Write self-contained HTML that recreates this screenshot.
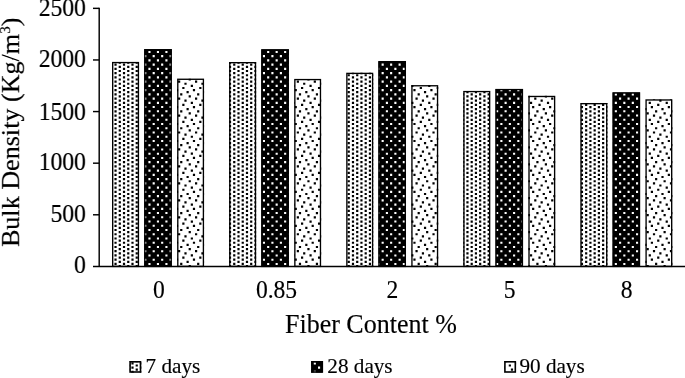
<!DOCTYPE html>
<html><head><meta charset="utf-8"><title>Bulk Density vs Fiber Content</title><style>
html,body{margin:0;padding:0;background:#fff;}
body{width:685px;height:378px;overflow:hidden;position:relative;-webkit-font-smoothing:antialiased;}
svg{position:absolute;left:0;top:0;filter:grayscale(1);}
text{font-family:"Liberation Serif", serif;fill:#000;stroke:#000;stroke-width:0.15px;}
</style></head><body>
<svg width="685" height="378" viewBox="0 0 685 378">
<defs><filter id="soft" x="0" y="0" width="1" height="1"><feGaussianBlur stdDeviation="0.35"/></filter><clipPath id="c00"><rect x="112.03" y="61.9" width="27.07" height="204.5"/></clipPath><clipPath id="c01"><rect x="144.13" y="49.1" width="27.74" height="217.3"/></clipPath><clipPath id="c02"><rect x="177.11" y="78.6" width="26.96" height="187.8"/></clipPath><clipPath id="c10"><rect x="229.11" y="62" width="27.07" height="204.4"/></clipPath><clipPath id="c11"><rect x="261.2" y="49.2" width="27.74" height="217.2"/></clipPath><clipPath id="c12"><rect x="294.19" y="78.9" width="26.96" height="187.5"/></clipPath><clipPath id="c20"><rect x="346.18" y="72.7" width="27.07" height="193.7"/></clipPath><clipPath id="c21"><rect x="378.28" y="61" width="27.74" height="205.4"/></clipPath><clipPath id="c22"><rect x="411.26" y="85.1" width="26.96" height="181.3"/></clipPath><clipPath id="c30"><rect x="463.25" y="90.9" width="27.07" height="175.5"/></clipPath><clipPath id="c31"><rect x="495.36" y="88.9" width="27.74" height="177.5"/></clipPath><clipPath id="c32"><rect x="528.34" y="95.8" width="26.96" height="170.6"/></clipPath><clipPath id="c40"><rect x="580.33" y="103" width="27.07" height="163.4"/></clipPath><clipPath id="c41"><rect x="612.43" y="92.3" width="27.74" height="174.1"/></clipPath><clipPath id="c42"><rect x="645.41" y="99.3" width="26.96" height="167.1"/></clipPath><clipPath id="lc0"><rect x="129.3" y="361" width="12" height="11.8"/></clipPath><clipPath id="lc1"><rect x="311.1" y="361" width="12" height="11.8"/></clipPath><clipPath id="lc2"><rect x="504.1" y="361" width="12" height="11.8"/></clipPath></defs>
<rect width="685" height="378" fill="#fff"/>
<g filter="url(#soft)"><g clip-path="url(#c00)"><rect x="112.03" y="61.9" width="27.07" height="204.5" fill="#fff"/><path fill="#000" d="M110.2 61.44h2.2v2.2h-2.2zM110.2 65.68h2.2v2.2h-2.2zM110.2 69.92h2.2v2.2h-2.2zM110.2 74.16h2.2v2.2h-2.2zM110.2 78.4h2.2v2.2h-2.2zM110.2 82.64h2.2v2.2h-2.2zM110.2 86.88h2.2v2.2h-2.2zM110.2 91.12h2.2v2.2h-2.2zM110.2 95.36h2.2v2.2h-2.2zM110.2 99.6h2.2v2.2h-2.2zM110.2 103.84h2.2v2.2h-2.2zM110.2 108.08h2.2v2.2h-2.2zM110.2 112.32h2.2v2.2h-2.2zM110.2 116.56h2.2v2.2h-2.2zM110.2 120.8h2.2v2.2h-2.2zM110.2 125.04h2.2v2.2h-2.2zM110.2 129.28h2.2v2.2h-2.2zM110.2 133.52h2.2v2.2h-2.2zM110.2 137.76h2.2v2.2h-2.2zM110.2 142h2.2v2.2h-2.2zM110.2 146.24h2.2v2.2h-2.2zM110.2 150.48h2.2v2.2h-2.2zM110.2 154.72h2.2v2.2h-2.2zM110.2 158.96h2.2v2.2h-2.2zM110.2 163.2h2.2v2.2h-2.2zM110.2 167.44h2.2v2.2h-2.2zM110.2 171.68h2.2v2.2h-2.2zM110.2 175.92h2.2v2.2h-2.2zM110.2 180.16h2.2v2.2h-2.2zM110.2 184.4h2.2v2.2h-2.2zM110.2 188.64h2.2v2.2h-2.2zM110.2 192.88h2.2v2.2h-2.2zM110.2 197.12h2.2v2.2h-2.2zM110.2 201.36h2.2v2.2h-2.2zM110.2 205.6h2.2v2.2h-2.2zM110.2 209.84h2.2v2.2h-2.2zM110.2 214.08h2.2v2.2h-2.2zM110.2 218.32h2.2v2.2h-2.2zM110.2 222.56h2.2v2.2h-2.2zM110.2 226.8h2.2v2.2h-2.2zM110.2 231.04h2.2v2.2h-2.2zM110.2 235.28h2.2v2.2h-2.2zM110.2 239.52h2.2v2.2h-2.2zM110.2 243.76h2.2v2.2h-2.2zM110.2 248h2.2v2.2h-2.2zM110.2 252.24h2.2v2.2h-2.2zM110.2 256.48h2.2v2.2h-2.2zM110.2 260.72h2.2v2.2h-2.2zM110.2 264.96h2.2v2.2h-2.2zM114.44 63.56h2.2v2.2h-2.2zM114.44 67.8h2.2v2.2h-2.2zM114.44 72.04h2.2v2.2h-2.2zM114.44 76.28h2.2v2.2h-2.2zM114.44 80.52h2.2v2.2h-2.2zM114.44 84.76h2.2v2.2h-2.2zM114.44 89h2.2v2.2h-2.2zM114.44 93.24h2.2v2.2h-2.2zM114.44 97.48h2.2v2.2h-2.2zM114.44 101.72h2.2v2.2h-2.2zM114.44 105.96h2.2v2.2h-2.2zM114.44 110.2h2.2v2.2h-2.2zM114.44 114.44h2.2v2.2h-2.2zM114.44 118.68h2.2v2.2h-2.2zM114.44 122.92h2.2v2.2h-2.2zM114.44 127.16h2.2v2.2h-2.2zM114.44 131.4h2.2v2.2h-2.2zM114.44 135.64h2.2v2.2h-2.2zM114.44 139.88h2.2v2.2h-2.2zM114.44 144.12h2.2v2.2h-2.2zM114.44 148.36h2.2v2.2h-2.2zM114.44 152.6h2.2v2.2h-2.2zM114.44 156.84h2.2v2.2h-2.2zM114.44 161.08h2.2v2.2h-2.2zM114.44 165.32h2.2v2.2h-2.2zM114.44 169.56h2.2v2.2h-2.2zM114.44 173.8h2.2v2.2h-2.2zM114.44 178.04h2.2v2.2h-2.2zM114.44 182.28h2.2v2.2h-2.2zM114.44 186.52h2.2v2.2h-2.2zM114.44 190.76h2.2v2.2h-2.2zM114.44 195h2.2v2.2h-2.2zM114.44 199.24h2.2v2.2h-2.2zM114.44 203.48h2.2v2.2h-2.2zM114.44 207.72h2.2v2.2h-2.2zM114.44 211.96h2.2v2.2h-2.2zM114.44 216.2h2.2v2.2h-2.2zM114.44 220.44h2.2v2.2h-2.2zM114.44 224.68h2.2v2.2h-2.2zM114.44 228.92h2.2v2.2h-2.2zM114.44 233.16h2.2v2.2h-2.2zM114.44 237.4h2.2v2.2h-2.2zM114.44 241.64h2.2v2.2h-2.2zM114.44 245.88h2.2v2.2h-2.2zM114.44 250.12h2.2v2.2h-2.2zM114.44 254.36h2.2v2.2h-2.2zM114.44 258.6h2.2v2.2h-2.2zM114.44 262.84h2.2v2.2h-2.2zM118.68 61.44h2.2v2.2h-2.2zM118.68 65.68h2.2v2.2h-2.2zM118.68 69.92h2.2v2.2h-2.2zM118.68 74.16h2.2v2.2h-2.2zM118.68 78.4h2.2v2.2h-2.2zM118.68 82.64h2.2v2.2h-2.2zM118.68 86.88h2.2v2.2h-2.2zM118.68 91.12h2.2v2.2h-2.2zM118.68 95.36h2.2v2.2h-2.2zM118.68 99.6h2.2v2.2h-2.2zM118.68 103.84h2.2v2.2h-2.2zM118.68 108.08h2.2v2.2h-2.2zM118.68 112.32h2.2v2.2h-2.2zM118.68 116.56h2.2v2.2h-2.2zM118.68 120.8h2.2v2.2h-2.2zM118.68 125.04h2.2v2.2h-2.2zM118.68 129.28h2.2v2.2h-2.2zM118.68 133.52h2.2v2.2h-2.2zM118.68 137.76h2.2v2.2h-2.2zM118.68 142h2.2v2.2h-2.2zM118.68 146.24h2.2v2.2h-2.2zM118.68 150.48h2.2v2.2h-2.2zM118.68 154.72h2.2v2.2h-2.2zM118.68 158.96h2.2v2.2h-2.2zM118.68 163.2h2.2v2.2h-2.2zM118.68 167.44h2.2v2.2h-2.2zM118.68 171.68h2.2v2.2h-2.2zM118.68 175.92h2.2v2.2h-2.2zM118.68 180.16h2.2v2.2h-2.2zM118.68 184.4h2.2v2.2h-2.2zM118.68 188.64h2.2v2.2h-2.2zM118.68 192.88h2.2v2.2h-2.2zM118.68 197.12h2.2v2.2h-2.2zM118.68 201.36h2.2v2.2h-2.2zM118.68 205.6h2.2v2.2h-2.2zM118.68 209.84h2.2v2.2h-2.2zM118.68 214.08h2.2v2.2h-2.2zM118.68 218.32h2.2v2.2h-2.2zM118.68 222.56h2.2v2.2h-2.2zM118.68 226.8h2.2v2.2h-2.2zM118.68 231.04h2.2v2.2h-2.2zM118.68 235.28h2.2v2.2h-2.2zM118.68 239.52h2.2v2.2h-2.2zM118.68 243.76h2.2v2.2h-2.2zM118.68 248h2.2v2.2h-2.2zM118.68 252.24h2.2v2.2h-2.2zM118.68 256.48h2.2v2.2h-2.2zM118.68 260.72h2.2v2.2h-2.2zM118.68 264.96h2.2v2.2h-2.2zM122.92 63.56h2.2v2.2h-2.2zM122.92 67.8h2.2v2.2h-2.2zM122.92 72.04h2.2v2.2h-2.2zM122.92 76.28h2.2v2.2h-2.2zM122.92 80.52h2.2v2.2h-2.2zM122.92 84.76h2.2v2.2h-2.2zM122.92 89h2.2v2.2h-2.2zM122.92 93.24h2.2v2.2h-2.2zM122.92 97.48h2.2v2.2h-2.2zM122.92 101.72h2.2v2.2h-2.2zM122.92 105.96h2.2v2.2h-2.2zM122.92 110.2h2.2v2.2h-2.2zM122.92 114.44h2.2v2.2h-2.2zM122.92 118.68h2.2v2.2h-2.2zM122.92 122.92h2.2v2.2h-2.2zM122.92 127.16h2.2v2.2h-2.2zM122.92 131.4h2.2v2.2h-2.2zM122.92 135.64h2.2v2.2h-2.2zM122.92 139.88h2.2v2.2h-2.2zM122.92 144.12h2.2v2.2h-2.2zM122.92 148.36h2.2v2.2h-2.2zM122.92 152.6h2.2v2.2h-2.2zM122.92 156.84h2.2v2.2h-2.2zM122.92 161.08h2.2v2.2h-2.2zM122.92 165.32h2.2v2.2h-2.2zM122.92 169.56h2.2v2.2h-2.2zM122.92 173.8h2.2v2.2h-2.2zM122.92 178.04h2.2v2.2h-2.2zM122.92 182.28h2.2v2.2h-2.2zM122.92 186.52h2.2v2.2h-2.2zM122.92 190.76h2.2v2.2h-2.2zM122.92 195h2.2v2.2h-2.2zM122.92 199.24h2.2v2.2h-2.2zM122.92 203.48h2.2v2.2h-2.2zM122.92 207.72h2.2v2.2h-2.2zM122.92 211.96h2.2v2.2h-2.2zM122.92 216.2h2.2v2.2h-2.2zM122.92 220.44h2.2v2.2h-2.2zM122.92 224.68h2.2v2.2h-2.2zM122.92 228.92h2.2v2.2h-2.2zM122.92 233.16h2.2v2.2h-2.2zM122.92 237.4h2.2v2.2h-2.2zM122.92 241.64h2.2v2.2h-2.2zM122.92 245.88h2.2v2.2h-2.2zM122.92 250.12h2.2v2.2h-2.2zM122.92 254.36h2.2v2.2h-2.2zM122.92 258.6h2.2v2.2h-2.2zM122.92 262.84h2.2v2.2h-2.2zM127.16 61.44h2.2v2.2h-2.2zM127.16 65.68h2.2v2.2h-2.2zM127.16 69.92h2.2v2.2h-2.2zM127.16 74.16h2.2v2.2h-2.2zM127.16 78.4h2.2v2.2h-2.2zM127.16 82.64h2.2v2.2h-2.2zM127.16 86.88h2.2v2.2h-2.2zM127.16 91.12h2.2v2.2h-2.2zM127.16 95.36h2.2v2.2h-2.2zM127.16 99.6h2.2v2.2h-2.2zM127.16 103.84h2.2v2.2h-2.2zM127.16 108.08h2.2v2.2h-2.2zM127.16 112.32h2.2v2.2h-2.2zM127.16 116.56h2.2v2.2h-2.2zM127.16 120.8h2.2v2.2h-2.2zM127.16 125.04h2.2v2.2h-2.2zM127.16 129.28h2.2v2.2h-2.2zM127.16 133.52h2.2v2.2h-2.2zM127.16 137.76h2.2v2.2h-2.2zM127.16 142h2.2v2.2h-2.2zM127.16 146.24h2.2v2.2h-2.2zM127.16 150.48h2.2v2.2h-2.2zM127.16 154.72h2.2v2.2h-2.2zM127.16 158.96h2.2v2.2h-2.2zM127.16 163.2h2.2v2.2h-2.2zM127.16 167.44h2.2v2.2h-2.2zM127.16 171.68h2.2v2.2h-2.2zM127.16 175.92h2.2v2.2h-2.2zM127.16 180.16h2.2v2.2h-2.2zM127.16 184.4h2.2v2.2h-2.2zM127.16 188.64h2.2v2.2h-2.2zM127.16 192.88h2.2v2.2h-2.2zM127.16 197.12h2.2v2.2h-2.2zM127.16 201.36h2.2v2.2h-2.2zM127.16 205.6h2.2v2.2h-2.2zM127.16 209.84h2.2v2.2h-2.2zM127.16 214.08h2.2v2.2h-2.2zM127.16 218.32h2.2v2.2h-2.2zM127.16 222.56h2.2v2.2h-2.2zM127.16 226.8h2.2v2.2h-2.2zM127.16 231.04h2.2v2.2h-2.2zM127.16 235.28h2.2v2.2h-2.2zM127.16 239.52h2.2v2.2h-2.2zM127.16 243.76h2.2v2.2h-2.2zM127.16 248h2.2v2.2h-2.2zM127.16 252.24h2.2v2.2h-2.2zM127.16 256.48h2.2v2.2h-2.2zM127.16 260.72h2.2v2.2h-2.2zM127.16 264.96h2.2v2.2h-2.2zM131.4 63.56h2.2v2.2h-2.2zM131.4 67.8h2.2v2.2h-2.2zM131.4 72.04h2.2v2.2h-2.2zM131.4 76.28h2.2v2.2h-2.2zM131.4 80.52h2.2v2.2h-2.2zM131.4 84.76h2.2v2.2h-2.2zM131.4 89h2.2v2.2h-2.2zM131.4 93.24h2.2v2.2h-2.2zM131.4 97.48h2.2v2.2h-2.2zM131.4 101.72h2.2v2.2h-2.2zM131.4 105.96h2.2v2.2h-2.2zM131.4 110.2h2.2v2.2h-2.2zM131.4 114.44h2.2v2.2h-2.2zM131.4 118.68h2.2v2.2h-2.2zM131.4 122.92h2.2v2.2h-2.2zM131.4 127.16h2.2v2.2h-2.2zM131.4 131.4h2.2v2.2h-2.2zM131.4 135.64h2.2v2.2h-2.2zM131.4 139.88h2.2v2.2h-2.2zM131.4 144.12h2.2v2.2h-2.2zM131.4 148.36h2.2v2.2h-2.2zM131.4 152.6h2.2v2.2h-2.2zM131.4 156.84h2.2v2.2h-2.2zM131.4 161.08h2.2v2.2h-2.2zM131.4 165.32h2.2v2.2h-2.2zM131.4 169.56h2.2v2.2h-2.2zM131.4 173.8h2.2v2.2h-2.2zM131.4 178.04h2.2v2.2h-2.2zM131.4 182.28h2.2v2.2h-2.2zM131.4 186.52h2.2v2.2h-2.2zM131.4 190.76h2.2v2.2h-2.2zM131.4 195h2.2v2.2h-2.2zM131.4 199.24h2.2v2.2h-2.2zM131.4 203.48h2.2v2.2h-2.2zM131.4 207.72h2.2v2.2h-2.2zM131.4 211.96h2.2v2.2h-2.2zM131.4 216.2h2.2v2.2h-2.2zM131.4 220.44h2.2v2.2h-2.2zM131.4 224.68h2.2v2.2h-2.2zM131.4 228.92h2.2v2.2h-2.2zM131.4 233.16h2.2v2.2h-2.2zM131.4 237.4h2.2v2.2h-2.2zM131.4 241.64h2.2v2.2h-2.2zM131.4 245.88h2.2v2.2h-2.2zM131.4 250.12h2.2v2.2h-2.2zM131.4 254.36h2.2v2.2h-2.2zM131.4 258.6h2.2v2.2h-2.2zM131.4 262.84h2.2v2.2h-2.2zM135.64 61.44h2.2v2.2h-2.2zM135.64 65.68h2.2v2.2h-2.2zM135.64 69.92h2.2v2.2h-2.2zM135.64 74.16h2.2v2.2h-2.2zM135.64 78.4h2.2v2.2h-2.2zM135.64 82.64h2.2v2.2h-2.2zM135.64 86.88h2.2v2.2h-2.2zM135.64 91.12h2.2v2.2h-2.2zM135.64 95.36h2.2v2.2h-2.2zM135.64 99.6h2.2v2.2h-2.2zM135.64 103.84h2.2v2.2h-2.2zM135.64 108.08h2.2v2.2h-2.2zM135.64 112.32h2.2v2.2h-2.2zM135.64 116.56h2.2v2.2h-2.2zM135.64 120.8h2.2v2.2h-2.2zM135.64 125.04h2.2v2.2h-2.2zM135.64 129.28h2.2v2.2h-2.2zM135.64 133.52h2.2v2.2h-2.2zM135.64 137.76h2.2v2.2h-2.2zM135.64 142h2.2v2.2h-2.2zM135.64 146.24h2.2v2.2h-2.2zM135.64 150.48h2.2v2.2h-2.2zM135.64 154.72h2.2v2.2h-2.2zM135.64 158.96h2.2v2.2h-2.2zM135.64 163.2h2.2v2.2h-2.2zM135.64 167.44h2.2v2.2h-2.2zM135.64 171.68h2.2v2.2h-2.2zM135.64 175.92h2.2v2.2h-2.2zM135.64 180.16h2.2v2.2h-2.2zM135.64 184.4h2.2v2.2h-2.2zM135.64 188.64h2.2v2.2h-2.2zM135.64 192.88h2.2v2.2h-2.2zM135.64 197.12h2.2v2.2h-2.2zM135.64 201.36h2.2v2.2h-2.2zM135.64 205.6h2.2v2.2h-2.2zM135.64 209.84h2.2v2.2h-2.2zM135.64 214.08h2.2v2.2h-2.2zM135.64 218.32h2.2v2.2h-2.2zM135.64 222.56h2.2v2.2h-2.2zM135.64 226.8h2.2v2.2h-2.2zM135.64 231.04h2.2v2.2h-2.2zM135.64 235.28h2.2v2.2h-2.2zM135.64 239.52h2.2v2.2h-2.2zM135.64 243.76h2.2v2.2h-2.2zM135.64 248h2.2v2.2h-2.2zM135.64 252.24h2.2v2.2h-2.2zM135.64 256.48h2.2v2.2h-2.2zM135.64 260.72h2.2v2.2h-2.2zM135.64 264.96h2.2v2.2h-2.2z"/></g><rect x="112.7" y="62.57" width="25.72" height="203.82" fill="none" stroke="#000" stroke-width="1.35"/><g clip-path="url(#c01)"><rect x="144.13" y="49.1" width="27.74" height="217.3" fill="#000"/><path fill="#fff" d="M144.16 55.12h2.12v2.12h-2.12zM144.16 63.6h2.12v2.12h-2.12zM144.16 72.08h2.12v2.12h-2.12zM144.16 80.56h2.12v2.12h-2.12zM144.16 89.04h2.12v2.12h-2.12zM144.16 97.52h2.12v2.12h-2.12zM144.16 106h2.12v2.12h-2.12zM144.16 114.48h2.12v2.12h-2.12zM144.16 122.96h2.12v2.12h-2.12zM144.16 131.44h2.12v2.12h-2.12zM144.16 139.92h2.12v2.12h-2.12zM144.16 148.4h2.12v2.12h-2.12zM144.16 156.88h2.12v2.12h-2.12zM144.16 165.36h2.12v2.12h-2.12zM144.16 173.84h2.12v2.12h-2.12zM144.16 182.32h2.12v2.12h-2.12zM144.16 190.8h2.12v2.12h-2.12zM144.16 199.28h2.12v2.12h-2.12zM144.16 207.76h2.12v2.12h-2.12zM144.16 216.24h2.12v2.12h-2.12zM144.16 224.72h2.12v2.12h-2.12zM144.16 233.2h2.12v2.12h-2.12zM144.16 241.68h2.12v2.12h-2.12zM144.16 250.16h2.12v2.12h-2.12zM144.16 258.64h2.12v2.12h-2.12zM148.4 50.88h2.12v2.12h-2.12zM148.4 59.36h2.12v2.12h-2.12zM148.4 67.84h2.12v2.12h-2.12zM148.4 76.32h2.12v2.12h-2.12zM148.4 84.8h2.12v2.12h-2.12zM148.4 93.28h2.12v2.12h-2.12zM148.4 101.76h2.12v2.12h-2.12zM148.4 110.24h2.12v2.12h-2.12zM148.4 118.72h2.12v2.12h-2.12zM148.4 127.2h2.12v2.12h-2.12zM148.4 135.68h2.12v2.12h-2.12zM148.4 144.16h2.12v2.12h-2.12zM148.4 152.64h2.12v2.12h-2.12zM148.4 161.12h2.12v2.12h-2.12zM148.4 169.6h2.12v2.12h-2.12zM148.4 178.08h2.12v2.12h-2.12zM148.4 186.56h2.12v2.12h-2.12zM148.4 195.04h2.12v2.12h-2.12zM148.4 203.52h2.12v2.12h-2.12zM148.4 212h2.12v2.12h-2.12zM148.4 220.48h2.12v2.12h-2.12zM148.4 228.96h2.12v2.12h-2.12zM148.4 237.44h2.12v2.12h-2.12zM148.4 245.92h2.12v2.12h-2.12zM148.4 254.4h2.12v2.12h-2.12zM148.4 262.88h2.12v2.12h-2.12zM152.64 55.12h2.12v2.12h-2.12zM152.64 63.6h2.12v2.12h-2.12zM152.64 72.08h2.12v2.12h-2.12zM152.64 80.56h2.12v2.12h-2.12zM152.64 89.04h2.12v2.12h-2.12zM152.64 97.52h2.12v2.12h-2.12zM152.64 106h2.12v2.12h-2.12zM152.64 114.48h2.12v2.12h-2.12zM152.64 122.96h2.12v2.12h-2.12zM152.64 131.44h2.12v2.12h-2.12zM152.64 139.92h2.12v2.12h-2.12zM152.64 148.4h2.12v2.12h-2.12zM152.64 156.88h2.12v2.12h-2.12zM152.64 165.36h2.12v2.12h-2.12zM152.64 173.84h2.12v2.12h-2.12zM152.64 182.32h2.12v2.12h-2.12zM152.64 190.8h2.12v2.12h-2.12zM152.64 199.28h2.12v2.12h-2.12zM152.64 207.76h2.12v2.12h-2.12zM152.64 216.24h2.12v2.12h-2.12zM152.64 224.72h2.12v2.12h-2.12zM152.64 233.2h2.12v2.12h-2.12zM152.64 241.68h2.12v2.12h-2.12zM152.64 250.16h2.12v2.12h-2.12zM152.64 258.64h2.12v2.12h-2.12zM156.88 50.88h2.12v2.12h-2.12zM156.88 59.36h2.12v2.12h-2.12zM156.88 67.84h2.12v2.12h-2.12zM156.88 76.32h2.12v2.12h-2.12zM156.88 84.8h2.12v2.12h-2.12zM156.88 93.28h2.12v2.12h-2.12zM156.88 101.76h2.12v2.12h-2.12zM156.88 110.24h2.12v2.12h-2.12zM156.88 118.72h2.12v2.12h-2.12zM156.88 127.2h2.12v2.12h-2.12zM156.88 135.68h2.12v2.12h-2.12zM156.88 144.16h2.12v2.12h-2.12zM156.88 152.64h2.12v2.12h-2.12zM156.88 161.12h2.12v2.12h-2.12zM156.88 169.6h2.12v2.12h-2.12zM156.88 178.08h2.12v2.12h-2.12zM156.88 186.56h2.12v2.12h-2.12zM156.88 195.04h2.12v2.12h-2.12zM156.88 203.52h2.12v2.12h-2.12zM156.88 212h2.12v2.12h-2.12zM156.88 220.48h2.12v2.12h-2.12zM156.88 228.96h2.12v2.12h-2.12zM156.88 237.44h2.12v2.12h-2.12zM156.88 245.92h2.12v2.12h-2.12zM156.88 254.4h2.12v2.12h-2.12zM156.88 262.88h2.12v2.12h-2.12zM161.12 55.12h2.12v2.12h-2.12zM161.12 63.6h2.12v2.12h-2.12zM161.12 72.08h2.12v2.12h-2.12zM161.12 80.56h2.12v2.12h-2.12zM161.12 89.04h2.12v2.12h-2.12zM161.12 97.52h2.12v2.12h-2.12zM161.12 106h2.12v2.12h-2.12zM161.12 114.48h2.12v2.12h-2.12zM161.12 122.96h2.12v2.12h-2.12zM161.12 131.44h2.12v2.12h-2.12zM161.12 139.92h2.12v2.12h-2.12zM161.12 148.4h2.12v2.12h-2.12zM161.12 156.88h2.12v2.12h-2.12zM161.12 165.36h2.12v2.12h-2.12zM161.12 173.84h2.12v2.12h-2.12zM161.12 182.32h2.12v2.12h-2.12zM161.12 190.8h2.12v2.12h-2.12zM161.12 199.28h2.12v2.12h-2.12zM161.12 207.76h2.12v2.12h-2.12zM161.12 216.24h2.12v2.12h-2.12zM161.12 224.72h2.12v2.12h-2.12zM161.12 233.2h2.12v2.12h-2.12zM161.12 241.68h2.12v2.12h-2.12zM161.12 250.16h2.12v2.12h-2.12zM161.12 258.64h2.12v2.12h-2.12zM165.36 50.88h2.12v2.12h-2.12zM165.36 59.36h2.12v2.12h-2.12zM165.36 67.84h2.12v2.12h-2.12zM165.36 76.32h2.12v2.12h-2.12zM165.36 84.8h2.12v2.12h-2.12zM165.36 93.28h2.12v2.12h-2.12zM165.36 101.76h2.12v2.12h-2.12zM165.36 110.24h2.12v2.12h-2.12zM165.36 118.72h2.12v2.12h-2.12zM165.36 127.2h2.12v2.12h-2.12zM165.36 135.68h2.12v2.12h-2.12zM165.36 144.16h2.12v2.12h-2.12zM165.36 152.64h2.12v2.12h-2.12zM165.36 161.12h2.12v2.12h-2.12zM165.36 169.6h2.12v2.12h-2.12zM165.36 178.08h2.12v2.12h-2.12zM165.36 186.56h2.12v2.12h-2.12zM165.36 195.04h2.12v2.12h-2.12zM165.36 203.52h2.12v2.12h-2.12zM165.36 212h2.12v2.12h-2.12zM165.36 220.48h2.12v2.12h-2.12zM165.36 228.96h2.12v2.12h-2.12zM165.36 237.44h2.12v2.12h-2.12zM165.36 245.92h2.12v2.12h-2.12zM165.36 254.4h2.12v2.12h-2.12zM165.36 262.88h2.12v2.12h-2.12zM169.6 55.12h2.12v2.12h-2.12zM169.6 63.6h2.12v2.12h-2.12zM169.6 72.08h2.12v2.12h-2.12zM169.6 80.56h2.12v2.12h-2.12zM169.6 89.04h2.12v2.12h-2.12zM169.6 97.52h2.12v2.12h-2.12zM169.6 106h2.12v2.12h-2.12zM169.6 114.48h2.12v2.12h-2.12zM169.6 122.96h2.12v2.12h-2.12zM169.6 131.44h2.12v2.12h-2.12zM169.6 139.92h2.12v2.12h-2.12zM169.6 148.4h2.12v2.12h-2.12zM169.6 156.88h2.12v2.12h-2.12zM169.6 165.36h2.12v2.12h-2.12zM169.6 173.84h2.12v2.12h-2.12zM169.6 182.32h2.12v2.12h-2.12zM169.6 190.8h2.12v2.12h-2.12zM169.6 199.28h2.12v2.12h-2.12zM169.6 207.76h2.12v2.12h-2.12zM169.6 216.24h2.12v2.12h-2.12zM169.6 224.72h2.12v2.12h-2.12zM169.6 233.2h2.12v2.12h-2.12zM169.6 241.68h2.12v2.12h-2.12zM169.6 250.16h2.12v2.12h-2.12zM169.6 258.64h2.12v2.12h-2.12z"/></g><rect x="144.81" y="49.77" width="26.39" height="216.62" fill="none" stroke="#000" stroke-width="1.35"/><g clip-path="url(#c02)"><rect x="177.11" y="78.6" width="26.96" height="187.8" fill="#fff"/><path fill="#000" d="M175.92 89h2.2v2.2h-2.2zM175.92 105.96h2.2v2.2h-2.2zM175.92 122.92h2.2v2.2h-2.2zM175.92 139.88h2.2v2.2h-2.2zM175.92 156.84h2.2v2.2h-2.2zM175.92 173.8h2.2v2.2h-2.2zM175.92 190.76h2.2v2.2h-2.2zM175.92 207.72h2.2v2.2h-2.2zM175.92 224.68h2.2v2.2h-2.2zM175.92 241.64h2.2v2.2h-2.2zM175.92 258.6h2.2v2.2h-2.2zM178.04 80.52h2.2v2.2h-2.2zM178.04 97.48h2.2v2.2h-2.2zM178.04 114.44h2.2v2.2h-2.2zM178.04 131.4h2.2v2.2h-2.2zM178.04 148.36h2.2v2.2h-2.2zM178.04 165.32h2.2v2.2h-2.2zM178.04 182.28h2.2v2.2h-2.2zM178.04 199.24h2.2v2.2h-2.2zM178.04 216.2h2.2v2.2h-2.2zM178.04 233.16h2.2v2.2h-2.2zM178.04 250.12h2.2v2.2h-2.2zM180.16 93.24h2.2v2.2h-2.2zM180.16 110.2h2.2v2.2h-2.2zM180.16 127.16h2.2v2.2h-2.2zM180.16 144.12h2.2v2.2h-2.2zM180.16 161.08h2.2v2.2h-2.2zM180.16 178.04h2.2v2.2h-2.2zM180.16 195h2.2v2.2h-2.2zM180.16 211.96h2.2v2.2h-2.2zM180.16 228.92h2.2v2.2h-2.2zM180.16 245.88h2.2v2.2h-2.2zM180.16 262.84h2.2v2.2h-2.2zM182.28 86.88h2.2v2.2h-2.2zM182.28 103.84h2.2v2.2h-2.2zM182.28 120.8h2.2v2.2h-2.2zM182.28 137.76h2.2v2.2h-2.2zM182.28 154.72h2.2v2.2h-2.2zM182.28 171.68h2.2v2.2h-2.2zM182.28 188.64h2.2v2.2h-2.2zM182.28 205.6h2.2v2.2h-2.2zM182.28 222.56h2.2v2.2h-2.2zM182.28 239.52h2.2v2.2h-2.2zM182.28 256.48h2.2v2.2h-2.2zM184.4 82.64h2.2v2.2h-2.2zM184.4 99.6h2.2v2.2h-2.2zM184.4 116.56h2.2v2.2h-2.2zM184.4 133.52h2.2v2.2h-2.2zM184.4 150.48h2.2v2.2h-2.2zM184.4 167.44h2.2v2.2h-2.2zM184.4 184.4h2.2v2.2h-2.2zM184.4 201.36h2.2v2.2h-2.2zM184.4 218.32h2.2v2.2h-2.2zM184.4 235.28h2.2v2.2h-2.2zM184.4 252.24h2.2v2.2h-2.2zM186.52 91.12h2.2v2.2h-2.2zM186.52 108.08h2.2v2.2h-2.2zM186.52 125.04h2.2v2.2h-2.2zM186.52 142h2.2v2.2h-2.2zM186.52 158.96h2.2v2.2h-2.2zM186.52 175.92h2.2v2.2h-2.2zM186.52 192.88h2.2v2.2h-2.2zM186.52 209.84h2.2v2.2h-2.2zM186.52 226.8h2.2v2.2h-2.2zM186.52 243.76h2.2v2.2h-2.2zM186.52 260.72h2.2v2.2h-2.2zM188.64 78.4h2.2v2.2h-2.2zM188.64 95.36h2.2v2.2h-2.2zM188.64 112.32h2.2v2.2h-2.2zM188.64 129.28h2.2v2.2h-2.2zM188.64 146.24h2.2v2.2h-2.2zM188.64 163.2h2.2v2.2h-2.2zM188.64 180.16h2.2v2.2h-2.2zM188.64 197.12h2.2v2.2h-2.2zM188.64 214.08h2.2v2.2h-2.2zM188.64 231.04h2.2v2.2h-2.2zM188.64 248h2.2v2.2h-2.2zM188.64 264.96h2.2v2.2h-2.2zM190.76 84.76h2.2v2.2h-2.2zM190.76 101.72h2.2v2.2h-2.2zM190.76 118.68h2.2v2.2h-2.2zM190.76 135.64h2.2v2.2h-2.2zM190.76 152.6h2.2v2.2h-2.2zM190.76 169.56h2.2v2.2h-2.2zM190.76 186.52h2.2v2.2h-2.2zM190.76 203.48h2.2v2.2h-2.2zM190.76 220.44h2.2v2.2h-2.2zM190.76 237.4h2.2v2.2h-2.2zM190.76 254.36h2.2v2.2h-2.2zM192.88 89h2.2v2.2h-2.2zM192.88 105.96h2.2v2.2h-2.2zM192.88 122.92h2.2v2.2h-2.2zM192.88 139.88h2.2v2.2h-2.2zM192.88 156.84h2.2v2.2h-2.2zM192.88 173.8h2.2v2.2h-2.2zM192.88 190.76h2.2v2.2h-2.2zM192.88 207.72h2.2v2.2h-2.2zM192.88 224.68h2.2v2.2h-2.2zM192.88 241.64h2.2v2.2h-2.2zM192.88 258.6h2.2v2.2h-2.2zM195 80.52h2.2v2.2h-2.2zM195 97.48h2.2v2.2h-2.2zM195 114.44h2.2v2.2h-2.2zM195 131.4h2.2v2.2h-2.2zM195 148.36h2.2v2.2h-2.2zM195 165.32h2.2v2.2h-2.2zM195 182.28h2.2v2.2h-2.2zM195 199.24h2.2v2.2h-2.2zM195 216.2h2.2v2.2h-2.2zM195 233.16h2.2v2.2h-2.2zM195 250.12h2.2v2.2h-2.2zM197.12 93.24h2.2v2.2h-2.2zM197.12 110.2h2.2v2.2h-2.2zM197.12 127.16h2.2v2.2h-2.2zM197.12 144.12h2.2v2.2h-2.2zM197.12 161.08h2.2v2.2h-2.2zM197.12 178.04h2.2v2.2h-2.2zM197.12 195h2.2v2.2h-2.2zM197.12 211.96h2.2v2.2h-2.2zM197.12 228.92h2.2v2.2h-2.2zM197.12 245.88h2.2v2.2h-2.2zM197.12 262.84h2.2v2.2h-2.2zM199.24 86.88h2.2v2.2h-2.2zM199.24 103.84h2.2v2.2h-2.2zM199.24 120.8h2.2v2.2h-2.2zM199.24 137.76h2.2v2.2h-2.2zM199.24 154.72h2.2v2.2h-2.2zM199.24 171.68h2.2v2.2h-2.2zM199.24 188.64h2.2v2.2h-2.2zM199.24 205.6h2.2v2.2h-2.2zM199.24 222.56h2.2v2.2h-2.2zM199.24 239.52h2.2v2.2h-2.2zM199.24 256.48h2.2v2.2h-2.2zM201.36 82.64h2.2v2.2h-2.2zM201.36 99.6h2.2v2.2h-2.2zM201.36 116.56h2.2v2.2h-2.2zM201.36 133.52h2.2v2.2h-2.2zM201.36 150.48h2.2v2.2h-2.2zM201.36 167.44h2.2v2.2h-2.2zM201.36 184.4h2.2v2.2h-2.2zM201.36 201.36h2.2v2.2h-2.2zM201.36 218.32h2.2v2.2h-2.2zM201.36 235.28h2.2v2.2h-2.2zM201.36 252.24h2.2v2.2h-2.2zM203.48 91.12h2.2v2.2h-2.2zM203.48 108.08h2.2v2.2h-2.2zM203.48 125.04h2.2v2.2h-2.2zM203.48 142h2.2v2.2h-2.2zM203.48 158.96h2.2v2.2h-2.2zM203.48 175.92h2.2v2.2h-2.2zM203.48 192.88h2.2v2.2h-2.2zM203.48 209.84h2.2v2.2h-2.2zM203.48 226.8h2.2v2.2h-2.2zM203.48 243.76h2.2v2.2h-2.2zM203.48 260.72h2.2v2.2h-2.2z"/></g><rect x="177.79" y="79.27" width="25.61" height="187.12" fill="none" stroke="#000" stroke-width="1.35"/><g clip-path="url(#c10)"><rect x="229.11" y="62" width="27.07" height="204.4" fill="#fff"/><path fill="#000" d="M228.92 61.44h2.2v2.2h-2.2zM228.92 65.68h2.2v2.2h-2.2zM228.92 69.92h2.2v2.2h-2.2zM228.92 74.16h2.2v2.2h-2.2zM228.92 78.4h2.2v2.2h-2.2zM228.92 82.64h2.2v2.2h-2.2zM228.92 86.88h2.2v2.2h-2.2zM228.92 91.12h2.2v2.2h-2.2zM228.92 95.36h2.2v2.2h-2.2zM228.92 99.6h2.2v2.2h-2.2zM228.92 103.84h2.2v2.2h-2.2zM228.92 108.08h2.2v2.2h-2.2zM228.92 112.32h2.2v2.2h-2.2zM228.92 116.56h2.2v2.2h-2.2zM228.92 120.8h2.2v2.2h-2.2zM228.92 125.04h2.2v2.2h-2.2zM228.92 129.28h2.2v2.2h-2.2zM228.92 133.52h2.2v2.2h-2.2zM228.92 137.76h2.2v2.2h-2.2zM228.92 142h2.2v2.2h-2.2zM228.92 146.24h2.2v2.2h-2.2zM228.92 150.48h2.2v2.2h-2.2zM228.92 154.72h2.2v2.2h-2.2zM228.92 158.96h2.2v2.2h-2.2zM228.92 163.2h2.2v2.2h-2.2zM228.92 167.44h2.2v2.2h-2.2zM228.92 171.68h2.2v2.2h-2.2zM228.92 175.92h2.2v2.2h-2.2zM228.92 180.16h2.2v2.2h-2.2zM228.92 184.4h2.2v2.2h-2.2zM228.92 188.64h2.2v2.2h-2.2zM228.92 192.88h2.2v2.2h-2.2zM228.92 197.12h2.2v2.2h-2.2zM228.92 201.36h2.2v2.2h-2.2zM228.92 205.6h2.2v2.2h-2.2zM228.92 209.84h2.2v2.2h-2.2zM228.92 214.08h2.2v2.2h-2.2zM228.92 218.32h2.2v2.2h-2.2zM228.92 222.56h2.2v2.2h-2.2zM228.92 226.8h2.2v2.2h-2.2zM228.92 231.04h2.2v2.2h-2.2zM228.92 235.28h2.2v2.2h-2.2zM228.92 239.52h2.2v2.2h-2.2zM228.92 243.76h2.2v2.2h-2.2zM228.92 248h2.2v2.2h-2.2zM228.92 252.24h2.2v2.2h-2.2zM228.92 256.48h2.2v2.2h-2.2zM228.92 260.72h2.2v2.2h-2.2zM228.92 264.96h2.2v2.2h-2.2zM233.16 63.56h2.2v2.2h-2.2zM233.16 67.8h2.2v2.2h-2.2zM233.16 72.04h2.2v2.2h-2.2zM233.16 76.28h2.2v2.2h-2.2zM233.16 80.52h2.2v2.2h-2.2zM233.16 84.76h2.2v2.2h-2.2zM233.16 89h2.2v2.2h-2.2zM233.16 93.24h2.2v2.2h-2.2zM233.16 97.48h2.2v2.2h-2.2zM233.16 101.72h2.2v2.2h-2.2zM233.16 105.96h2.2v2.2h-2.2zM233.16 110.2h2.2v2.2h-2.2zM233.16 114.44h2.2v2.2h-2.2zM233.16 118.68h2.2v2.2h-2.2zM233.16 122.92h2.2v2.2h-2.2zM233.16 127.16h2.2v2.2h-2.2zM233.16 131.4h2.2v2.2h-2.2zM233.16 135.64h2.2v2.2h-2.2zM233.16 139.88h2.2v2.2h-2.2zM233.16 144.12h2.2v2.2h-2.2zM233.16 148.36h2.2v2.2h-2.2zM233.16 152.6h2.2v2.2h-2.2zM233.16 156.84h2.2v2.2h-2.2zM233.16 161.08h2.2v2.2h-2.2zM233.16 165.32h2.2v2.2h-2.2zM233.16 169.56h2.2v2.2h-2.2zM233.16 173.8h2.2v2.2h-2.2zM233.16 178.04h2.2v2.2h-2.2zM233.16 182.28h2.2v2.2h-2.2zM233.16 186.52h2.2v2.2h-2.2zM233.16 190.76h2.2v2.2h-2.2zM233.16 195h2.2v2.2h-2.2zM233.16 199.24h2.2v2.2h-2.2zM233.16 203.48h2.2v2.2h-2.2zM233.16 207.72h2.2v2.2h-2.2zM233.16 211.96h2.2v2.2h-2.2zM233.16 216.2h2.2v2.2h-2.2zM233.16 220.44h2.2v2.2h-2.2zM233.16 224.68h2.2v2.2h-2.2zM233.16 228.92h2.2v2.2h-2.2zM233.16 233.16h2.2v2.2h-2.2zM233.16 237.4h2.2v2.2h-2.2zM233.16 241.64h2.2v2.2h-2.2zM233.16 245.88h2.2v2.2h-2.2zM233.16 250.12h2.2v2.2h-2.2zM233.16 254.36h2.2v2.2h-2.2zM233.16 258.6h2.2v2.2h-2.2zM233.16 262.84h2.2v2.2h-2.2zM237.4 61.44h2.2v2.2h-2.2zM237.4 65.68h2.2v2.2h-2.2zM237.4 69.92h2.2v2.2h-2.2zM237.4 74.16h2.2v2.2h-2.2zM237.4 78.4h2.2v2.2h-2.2zM237.4 82.64h2.2v2.2h-2.2zM237.4 86.88h2.2v2.2h-2.2zM237.4 91.12h2.2v2.2h-2.2zM237.4 95.36h2.2v2.2h-2.2zM237.4 99.6h2.2v2.2h-2.2zM237.4 103.84h2.2v2.2h-2.2zM237.4 108.08h2.2v2.2h-2.2zM237.4 112.32h2.2v2.2h-2.2zM237.4 116.56h2.2v2.2h-2.2zM237.4 120.8h2.2v2.2h-2.2zM237.4 125.04h2.2v2.2h-2.2zM237.4 129.28h2.2v2.2h-2.2zM237.4 133.52h2.2v2.2h-2.2zM237.4 137.76h2.2v2.2h-2.2zM237.4 142h2.2v2.2h-2.2zM237.4 146.24h2.2v2.2h-2.2zM237.4 150.48h2.2v2.2h-2.2zM237.4 154.72h2.2v2.2h-2.2zM237.4 158.96h2.2v2.2h-2.2zM237.4 163.2h2.2v2.2h-2.2zM237.4 167.44h2.2v2.2h-2.2zM237.4 171.68h2.2v2.2h-2.2zM237.4 175.92h2.2v2.2h-2.2zM237.4 180.16h2.2v2.2h-2.2zM237.4 184.4h2.2v2.2h-2.2zM237.4 188.64h2.2v2.2h-2.2zM237.4 192.88h2.2v2.2h-2.2zM237.4 197.12h2.2v2.2h-2.2zM237.4 201.36h2.2v2.2h-2.2zM237.4 205.6h2.2v2.2h-2.2zM237.4 209.84h2.2v2.2h-2.2zM237.4 214.08h2.2v2.2h-2.2zM237.4 218.32h2.2v2.2h-2.2zM237.4 222.56h2.2v2.2h-2.2zM237.4 226.8h2.2v2.2h-2.2zM237.4 231.04h2.2v2.2h-2.2zM237.4 235.28h2.2v2.2h-2.2zM237.4 239.52h2.2v2.2h-2.2zM237.4 243.76h2.2v2.2h-2.2zM237.4 248h2.2v2.2h-2.2zM237.4 252.24h2.2v2.2h-2.2zM237.4 256.48h2.2v2.2h-2.2zM237.4 260.72h2.2v2.2h-2.2zM237.4 264.96h2.2v2.2h-2.2zM241.64 63.56h2.2v2.2h-2.2zM241.64 67.8h2.2v2.2h-2.2zM241.64 72.04h2.2v2.2h-2.2zM241.64 76.28h2.2v2.2h-2.2zM241.64 80.52h2.2v2.2h-2.2zM241.64 84.76h2.2v2.2h-2.2zM241.64 89h2.2v2.2h-2.2zM241.64 93.24h2.2v2.2h-2.2zM241.64 97.48h2.2v2.2h-2.2zM241.64 101.72h2.2v2.2h-2.2zM241.64 105.96h2.2v2.2h-2.2zM241.64 110.2h2.2v2.2h-2.2zM241.64 114.44h2.2v2.2h-2.2zM241.64 118.68h2.2v2.2h-2.2zM241.64 122.92h2.2v2.2h-2.2zM241.64 127.16h2.2v2.2h-2.2zM241.64 131.4h2.2v2.2h-2.2zM241.64 135.64h2.2v2.2h-2.2zM241.64 139.88h2.2v2.2h-2.2zM241.64 144.12h2.2v2.2h-2.2zM241.64 148.36h2.2v2.2h-2.2zM241.64 152.6h2.2v2.2h-2.2zM241.64 156.84h2.2v2.2h-2.2zM241.64 161.08h2.2v2.2h-2.2zM241.64 165.32h2.2v2.2h-2.2zM241.64 169.56h2.2v2.2h-2.2zM241.64 173.8h2.2v2.2h-2.2zM241.64 178.04h2.2v2.2h-2.2zM241.64 182.28h2.2v2.2h-2.2zM241.64 186.52h2.2v2.2h-2.2zM241.64 190.76h2.2v2.2h-2.2zM241.64 195h2.2v2.2h-2.2zM241.64 199.24h2.2v2.2h-2.2zM241.64 203.48h2.2v2.2h-2.2zM241.64 207.72h2.2v2.2h-2.2zM241.64 211.96h2.2v2.2h-2.2zM241.64 216.2h2.2v2.2h-2.2zM241.64 220.44h2.2v2.2h-2.2zM241.64 224.68h2.2v2.2h-2.2zM241.64 228.92h2.2v2.2h-2.2zM241.64 233.16h2.2v2.2h-2.2zM241.64 237.4h2.2v2.2h-2.2zM241.64 241.64h2.2v2.2h-2.2zM241.64 245.88h2.2v2.2h-2.2zM241.64 250.12h2.2v2.2h-2.2zM241.64 254.36h2.2v2.2h-2.2zM241.64 258.6h2.2v2.2h-2.2zM241.64 262.84h2.2v2.2h-2.2zM245.88 61.44h2.2v2.2h-2.2zM245.88 65.68h2.2v2.2h-2.2zM245.88 69.92h2.2v2.2h-2.2zM245.88 74.16h2.2v2.2h-2.2zM245.88 78.4h2.2v2.2h-2.2zM245.88 82.64h2.2v2.2h-2.2zM245.88 86.88h2.2v2.2h-2.2zM245.88 91.12h2.2v2.2h-2.2zM245.88 95.36h2.2v2.2h-2.2zM245.88 99.6h2.2v2.2h-2.2zM245.88 103.84h2.2v2.2h-2.2zM245.88 108.08h2.2v2.2h-2.2zM245.88 112.32h2.2v2.2h-2.2zM245.88 116.56h2.2v2.2h-2.2zM245.88 120.8h2.2v2.2h-2.2zM245.88 125.04h2.2v2.2h-2.2zM245.88 129.28h2.2v2.2h-2.2zM245.88 133.52h2.2v2.2h-2.2zM245.88 137.76h2.2v2.2h-2.2zM245.88 142h2.2v2.2h-2.2zM245.88 146.24h2.2v2.2h-2.2zM245.88 150.48h2.2v2.2h-2.2zM245.88 154.72h2.2v2.2h-2.2zM245.88 158.96h2.2v2.2h-2.2zM245.88 163.2h2.2v2.2h-2.2zM245.88 167.44h2.2v2.2h-2.2zM245.88 171.68h2.2v2.2h-2.2zM245.88 175.92h2.2v2.2h-2.2zM245.88 180.16h2.2v2.2h-2.2zM245.88 184.4h2.2v2.2h-2.2zM245.88 188.64h2.2v2.2h-2.2zM245.88 192.88h2.2v2.2h-2.2zM245.88 197.12h2.2v2.2h-2.2zM245.88 201.36h2.2v2.2h-2.2zM245.88 205.6h2.2v2.2h-2.2zM245.88 209.84h2.2v2.2h-2.2zM245.88 214.08h2.2v2.2h-2.2zM245.88 218.32h2.2v2.2h-2.2zM245.88 222.56h2.2v2.2h-2.2zM245.88 226.8h2.2v2.2h-2.2zM245.88 231.04h2.2v2.2h-2.2zM245.88 235.28h2.2v2.2h-2.2zM245.88 239.52h2.2v2.2h-2.2zM245.88 243.76h2.2v2.2h-2.2zM245.88 248h2.2v2.2h-2.2zM245.88 252.24h2.2v2.2h-2.2zM245.88 256.48h2.2v2.2h-2.2zM245.88 260.72h2.2v2.2h-2.2zM245.88 264.96h2.2v2.2h-2.2zM250.12 63.56h2.2v2.2h-2.2zM250.12 67.8h2.2v2.2h-2.2zM250.12 72.04h2.2v2.2h-2.2zM250.12 76.28h2.2v2.2h-2.2zM250.12 80.52h2.2v2.2h-2.2zM250.12 84.76h2.2v2.2h-2.2zM250.12 89h2.2v2.2h-2.2zM250.12 93.24h2.2v2.2h-2.2zM250.12 97.48h2.2v2.2h-2.2zM250.12 101.72h2.2v2.2h-2.2zM250.12 105.96h2.2v2.2h-2.2zM250.12 110.2h2.2v2.2h-2.2zM250.12 114.44h2.2v2.2h-2.2zM250.12 118.68h2.2v2.2h-2.2zM250.12 122.92h2.2v2.2h-2.2zM250.12 127.16h2.2v2.2h-2.2zM250.12 131.4h2.2v2.2h-2.2zM250.12 135.64h2.2v2.2h-2.2zM250.12 139.88h2.2v2.2h-2.2zM250.12 144.12h2.2v2.2h-2.2zM250.12 148.36h2.2v2.2h-2.2zM250.12 152.6h2.2v2.2h-2.2zM250.12 156.84h2.2v2.2h-2.2zM250.12 161.08h2.2v2.2h-2.2zM250.12 165.32h2.2v2.2h-2.2zM250.12 169.56h2.2v2.2h-2.2zM250.12 173.8h2.2v2.2h-2.2zM250.12 178.04h2.2v2.2h-2.2zM250.12 182.28h2.2v2.2h-2.2zM250.12 186.52h2.2v2.2h-2.2zM250.12 190.76h2.2v2.2h-2.2zM250.12 195h2.2v2.2h-2.2zM250.12 199.24h2.2v2.2h-2.2zM250.12 203.48h2.2v2.2h-2.2zM250.12 207.72h2.2v2.2h-2.2zM250.12 211.96h2.2v2.2h-2.2zM250.12 216.2h2.2v2.2h-2.2zM250.12 220.44h2.2v2.2h-2.2zM250.12 224.68h2.2v2.2h-2.2zM250.12 228.92h2.2v2.2h-2.2zM250.12 233.16h2.2v2.2h-2.2zM250.12 237.4h2.2v2.2h-2.2zM250.12 241.64h2.2v2.2h-2.2zM250.12 245.88h2.2v2.2h-2.2zM250.12 250.12h2.2v2.2h-2.2zM250.12 254.36h2.2v2.2h-2.2zM250.12 258.6h2.2v2.2h-2.2zM250.12 262.84h2.2v2.2h-2.2zM254.36 61.44h2.2v2.2h-2.2zM254.36 65.68h2.2v2.2h-2.2zM254.36 69.92h2.2v2.2h-2.2zM254.36 74.16h2.2v2.2h-2.2zM254.36 78.4h2.2v2.2h-2.2zM254.36 82.64h2.2v2.2h-2.2zM254.36 86.88h2.2v2.2h-2.2zM254.36 91.12h2.2v2.2h-2.2zM254.36 95.36h2.2v2.2h-2.2zM254.36 99.6h2.2v2.2h-2.2zM254.36 103.84h2.2v2.2h-2.2zM254.36 108.08h2.2v2.2h-2.2zM254.36 112.32h2.2v2.2h-2.2zM254.36 116.56h2.2v2.2h-2.2zM254.36 120.8h2.2v2.2h-2.2zM254.36 125.04h2.2v2.2h-2.2zM254.36 129.28h2.2v2.2h-2.2zM254.36 133.52h2.2v2.2h-2.2zM254.36 137.76h2.2v2.2h-2.2zM254.36 142h2.2v2.2h-2.2zM254.36 146.24h2.2v2.2h-2.2zM254.36 150.48h2.2v2.2h-2.2zM254.36 154.72h2.2v2.2h-2.2zM254.36 158.96h2.2v2.2h-2.2zM254.36 163.2h2.2v2.2h-2.2zM254.36 167.44h2.2v2.2h-2.2zM254.36 171.68h2.2v2.2h-2.2zM254.36 175.92h2.2v2.2h-2.2zM254.36 180.16h2.2v2.2h-2.2zM254.36 184.4h2.2v2.2h-2.2zM254.36 188.64h2.2v2.2h-2.2zM254.36 192.88h2.2v2.2h-2.2zM254.36 197.12h2.2v2.2h-2.2zM254.36 201.36h2.2v2.2h-2.2zM254.36 205.6h2.2v2.2h-2.2zM254.36 209.84h2.2v2.2h-2.2zM254.36 214.08h2.2v2.2h-2.2zM254.36 218.32h2.2v2.2h-2.2zM254.36 222.56h2.2v2.2h-2.2zM254.36 226.8h2.2v2.2h-2.2zM254.36 231.04h2.2v2.2h-2.2zM254.36 235.28h2.2v2.2h-2.2zM254.36 239.52h2.2v2.2h-2.2zM254.36 243.76h2.2v2.2h-2.2zM254.36 248h2.2v2.2h-2.2zM254.36 252.24h2.2v2.2h-2.2zM254.36 256.48h2.2v2.2h-2.2zM254.36 260.72h2.2v2.2h-2.2zM254.36 264.96h2.2v2.2h-2.2z"/></g><rect x="229.78" y="62.67" width="25.72" height="203.72" fill="none" stroke="#000" stroke-width="1.35"/><g clip-path="url(#c11)"><rect x="261.2" y="49.2" width="27.74" height="217.2" fill="#000"/><path fill="#fff" d="M262.88 55.12h2.12v2.12h-2.12zM262.88 63.6h2.12v2.12h-2.12zM262.88 72.08h2.12v2.12h-2.12zM262.88 80.56h2.12v2.12h-2.12zM262.88 89.04h2.12v2.12h-2.12zM262.88 97.52h2.12v2.12h-2.12zM262.88 106h2.12v2.12h-2.12zM262.88 114.48h2.12v2.12h-2.12zM262.88 122.96h2.12v2.12h-2.12zM262.88 131.44h2.12v2.12h-2.12zM262.88 139.92h2.12v2.12h-2.12zM262.88 148.4h2.12v2.12h-2.12zM262.88 156.88h2.12v2.12h-2.12zM262.88 165.36h2.12v2.12h-2.12zM262.88 173.84h2.12v2.12h-2.12zM262.88 182.32h2.12v2.12h-2.12zM262.88 190.8h2.12v2.12h-2.12zM262.88 199.28h2.12v2.12h-2.12zM262.88 207.76h2.12v2.12h-2.12zM262.88 216.24h2.12v2.12h-2.12zM262.88 224.72h2.12v2.12h-2.12zM262.88 233.2h2.12v2.12h-2.12zM262.88 241.68h2.12v2.12h-2.12zM262.88 250.16h2.12v2.12h-2.12zM262.88 258.64h2.12v2.12h-2.12zM267.12 50.88h2.12v2.12h-2.12zM267.12 59.36h2.12v2.12h-2.12zM267.12 67.84h2.12v2.12h-2.12zM267.12 76.32h2.12v2.12h-2.12zM267.12 84.8h2.12v2.12h-2.12zM267.12 93.28h2.12v2.12h-2.12zM267.12 101.76h2.12v2.12h-2.12zM267.12 110.24h2.12v2.12h-2.12zM267.12 118.72h2.12v2.12h-2.12zM267.12 127.2h2.12v2.12h-2.12zM267.12 135.68h2.12v2.12h-2.12zM267.12 144.16h2.12v2.12h-2.12zM267.12 152.64h2.12v2.12h-2.12zM267.12 161.12h2.12v2.12h-2.12zM267.12 169.6h2.12v2.12h-2.12zM267.12 178.08h2.12v2.12h-2.12zM267.12 186.56h2.12v2.12h-2.12zM267.12 195.04h2.12v2.12h-2.12zM267.12 203.52h2.12v2.12h-2.12zM267.12 212h2.12v2.12h-2.12zM267.12 220.48h2.12v2.12h-2.12zM267.12 228.96h2.12v2.12h-2.12zM267.12 237.44h2.12v2.12h-2.12zM267.12 245.92h2.12v2.12h-2.12zM267.12 254.4h2.12v2.12h-2.12zM267.12 262.88h2.12v2.12h-2.12zM271.36 55.12h2.12v2.12h-2.12zM271.36 63.6h2.12v2.12h-2.12zM271.36 72.08h2.12v2.12h-2.12zM271.36 80.56h2.12v2.12h-2.12zM271.36 89.04h2.12v2.12h-2.12zM271.36 97.52h2.12v2.12h-2.12zM271.36 106h2.12v2.12h-2.12zM271.36 114.48h2.12v2.12h-2.12zM271.36 122.96h2.12v2.12h-2.12zM271.36 131.44h2.12v2.12h-2.12zM271.36 139.92h2.12v2.12h-2.12zM271.36 148.4h2.12v2.12h-2.12zM271.36 156.88h2.12v2.12h-2.12zM271.36 165.36h2.12v2.12h-2.12zM271.36 173.84h2.12v2.12h-2.12zM271.36 182.32h2.12v2.12h-2.12zM271.36 190.8h2.12v2.12h-2.12zM271.36 199.28h2.12v2.12h-2.12zM271.36 207.76h2.12v2.12h-2.12zM271.36 216.24h2.12v2.12h-2.12zM271.36 224.72h2.12v2.12h-2.12zM271.36 233.2h2.12v2.12h-2.12zM271.36 241.68h2.12v2.12h-2.12zM271.36 250.16h2.12v2.12h-2.12zM271.36 258.64h2.12v2.12h-2.12zM275.6 50.88h2.12v2.12h-2.12zM275.6 59.36h2.12v2.12h-2.12zM275.6 67.84h2.12v2.12h-2.12zM275.6 76.32h2.12v2.12h-2.12zM275.6 84.8h2.12v2.12h-2.12zM275.6 93.28h2.12v2.12h-2.12zM275.6 101.76h2.12v2.12h-2.12zM275.6 110.24h2.12v2.12h-2.12zM275.6 118.72h2.12v2.12h-2.12zM275.6 127.2h2.12v2.12h-2.12zM275.6 135.68h2.12v2.12h-2.12zM275.6 144.16h2.12v2.12h-2.12zM275.6 152.64h2.12v2.12h-2.12zM275.6 161.12h2.12v2.12h-2.12zM275.6 169.6h2.12v2.12h-2.12zM275.6 178.08h2.12v2.12h-2.12zM275.6 186.56h2.12v2.12h-2.12zM275.6 195.04h2.12v2.12h-2.12zM275.6 203.52h2.12v2.12h-2.12zM275.6 212h2.12v2.12h-2.12zM275.6 220.48h2.12v2.12h-2.12zM275.6 228.96h2.12v2.12h-2.12zM275.6 237.44h2.12v2.12h-2.12zM275.6 245.92h2.12v2.12h-2.12zM275.6 254.4h2.12v2.12h-2.12zM275.6 262.88h2.12v2.12h-2.12zM279.84 55.12h2.12v2.12h-2.12zM279.84 63.6h2.12v2.12h-2.12zM279.84 72.08h2.12v2.12h-2.12zM279.84 80.56h2.12v2.12h-2.12zM279.84 89.04h2.12v2.12h-2.12zM279.84 97.52h2.12v2.12h-2.12zM279.84 106h2.12v2.12h-2.12zM279.84 114.48h2.12v2.12h-2.12zM279.84 122.96h2.12v2.12h-2.12zM279.84 131.44h2.12v2.12h-2.12zM279.84 139.92h2.12v2.12h-2.12zM279.84 148.4h2.12v2.12h-2.12zM279.84 156.88h2.12v2.12h-2.12zM279.84 165.36h2.12v2.12h-2.12zM279.84 173.84h2.12v2.12h-2.12zM279.84 182.32h2.12v2.12h-2.12zM279.84 190.8h2.12v2.12h-2.12zM279.84 199.28h2.12v2.12h-2.12zM279.84 207.76h2.12v2.12h-2.12zM279.84 216.24h2.12v2.12h-2.12zM279.84 224.72h2.12v2.12h-2.12zM279.84 233.2h2.12v2.12h-2.12zM279.84 241.68h2.12v2.12h-2.12zM279.84 250.16h2.12v2.12h-2.12zM279.84 258.64h2.12v2.12h-2.12zM284.08 50.88h2.12v2.12h-2.12zM284.08 59.36h2.12v2.12h-2.12zM284.08 67.84h2.12v2.12h-2.12zM284.08 76.32h2.12v2.12h-2.12zM284.08 84.8h2.12v2.12h-2.12zM284.08 93.28h2.12v2.12h-2.12zM284.08 101.76h2.12v2.12h-2.12zM284.08 110.24h2.12v2.12h-2.12zM284.08 118.72h2.12v2.12h-2.12zM284.08 127.2h2.12v2.12h-2.12zM284.08 135.68h2.12v2.12h-2.12zM284.08 144.16h2.12v2.12h-2.12zM284.08 152.64h2.12v2.12h-2.12zM284.08 161.12h2.12v2.12h-2.12zM284.08 169.6h2.12v2.12h-2.12zM284.08 178.08h2.12v2.12h-2.12zM284.08 186.56h2.12v2.12h-2.12zM284.08 195.04h2.12v2.12h-2.12zM284.08 203.52h2.12v2.12h-2.12zM284.08 212h2.12v2.12h-2.12zM284.08 220.48h2.12v2.12h-2.12zM284.08 228.96h2.12v2.12h-2.12zM284.08 237.44h2.12v2.12h-2.12zM284.08 245.92h2.12v2.12h-2.12zM284.08 254.4h2.12v2.12h-2.12zM284.08 262.88h2.12v2.12h-2.12zM288.32 55.12h2.12v2.12h-2.12zM288.32 63.6h2.12v2.12h-2.12zM288.32 72.08h2.12v2.12h-2.12zM288.32 80.56h2.12v2.12h-2.12zM288.32 89.04h2.12v2.12h-2.12zM288.32 97.52h2.12v2.12h-2.12zM288.32 106h2.12v2.12h-2.12zM288.32 114.48h2.12v2.12h-2.12zM288.32 122.96h2.12v2.12h-2.12zM288.32 131.44h2.12v2.12h-2.12zM288.32 139.92h2.12v2.12h-2.12zM288.32 148.4h2.12v2.12h-2.12zM288.32 156.88h2.12v2.12h-2.12zM288.32 165.36h2.12v2.12h-2.12zM288.32 173.84h2.12v2.12h-2.12zM288.32 182.32h2.12v2.12h-2.12zM288.32 190.8h2.12v2.12h-2.12zM288.32 199.28h2.12v2.12h-2.12zM288.32 207.76h2.12v2.12h-2.12zM288.32 216.24h2.12v2.12h-2.12zM288.32 224.72h2.12v2.12h-2.12zM288.32 233.2h2.12v2.12h-2.12zM288.32 241.68h2.12v2.12h-2.12zM288.32 250.16h2.12v2.12h-2.12zM288.32 258.64h2.12v2.12h-2.12z"/></g><rect x="261.88" y="49.88" width="26.39" height="216.52" fill="none" stroke="#000" stroke-width="1.35"/><g clip-path="url(#c12)"><rect x="294.19" y="78.9" width="26.96" height="187.5" fill="#fff"/><path fill="#000" d="M292.52 84.76h2.2v2.2h-2.2zM292.52 101.72h2.2v2.2h-2.2zM292.52 118.68h2.2v2.2h-2.2zM292.52 135.64h2.2v2.2h-2.2zM292.52 152.6h2.2v2.2h-2.2zM292.52 169.56h2.2v2.2h-2.2zM292.52 186.52h2.2v2.2h-2.2zM292.52 203.48h2.2v2.2h-2.2zM292.52 220.44h2.2v2.2h-2.2zM292.52 237.4h2.2v2.2h-2.2zM292.52 254.36h2.2v2.2h-2.2zM294.64 89h2.2v2.2h-2.2zM294.64 105.96h2.2v2.2h-2.2zM294.64 122.92h2.2v2.2h-2.2zM294.64 139.88h2.2v2.2h-2.2zM294.64 156.84h2.2v2.2h-2.2zM294.64 173.8h2.2v2.2h-2.2zM294.64 190.76h2.2v2.2h-2.2zM294.64 207.72h2.2v2.2h-2.2zM294.64 224.68h2.2v2.2h-2.2zM294.64 241.64h2.2v2.2h-2.2zM294.64 258.6h2.2v2.2h-2.2zM296.76 80.52h2.2v2.2h-2.2zM296.76 97.48h2.2v2.2h-2.2zM296.76 114.44h2.2v2.2h-2.2zM296.76 131.4h2.2v2.2h-2.2zM296.76 148.36h2.2v2.2h-2.2zM296.76 165.32h2.2v2.2h-2.2zM296.76 182.28h2.2v2.2h-2.2zM296.76 199.24h2.2v2.2h-2.2zM296.76 216.2h2.2v2.2h-2.2zM296.76 233.16h2.2v2.2h-2.2zM296.76 250.12h2.2v2.2h-2.2zM298.88 93.24h2.2v2.2h-2.2zM298.88 110.2h2.2v2.2h-2.2zM298.88 127.16h2.2v2.2h-2.2zM298.88 144.12h2.2v2.2h-2.2zM298.88 161.08h2.2v2.2h-2.2zM298.88 178.04h2.2v2.2h-2.2zM298.88 195h2.2v2.2h-2.2zM298.88 211.96h2.2v2.2h-2.2zM298.88 228.92h2.2v2.2h-2.2zM298.88 245.88h2.2v2.2h-2.2zM298.88 262.84h2.2v2.2h-2.2zM301 86.88h2.2v2.2h-2.2zM301 103.84h2.2v2.2h-2.2zM301 120.8h2.2v2.2h-2.2zM301 137.76h2.2v2.2h-2.2zM301 154.72h2.2v2.2h-2.2zM301 171.68h2.2v2.2h-2.2zM301 188.64h2.2v2.2h-2.2zM301 205.6h2.2v2.2h-2.2zM301 222.56h2.2v2.2h-2.2zM301 239.52h2.2v2.2h-2.2zM301 256.48h2.2v2.2h-2.2zM303.12 82.64h2.2v2.2h-2.2zM303.12 99.6h2.2v2.2h-2.2zM303.12 116.56h2.2v2.2h-2.2zM303.12 133.52h2.2v2.2h-2.2zM303.12 150.48h2.2v2.2h-2.2zM303.12 167.44h2.2v2.2h-2.2zM303.12 184.4h2.2v2.2h-2.2zM303.12 201.36h2.2v2.2h-2.2zM303.12 218.32h2.2v2.2h-2.2zM303.12 235.28h2.2v2.2h-2.2zM303.12 252.24h2.2v2.2h-2.2zM305.24 91.12h2.2v2.2h-2.2zM305.24 108.08h2.2v2.2h-2.2zM305.24 125.04h2.2v2.2h-2.2zM305.24 142h2.2v2.2h-2.2zM305.24 158.96h2.2v2.2h-2.2zM305.24 175.92h2.2v2.2h-2.2zM305.24 192.88h2.2v2.2h-2.2zM305.24 209.84h2.2v2.2h-2.2zM305.24 226.8h2.2v2.2h-2.2zM305.24 243.76h2.2v2.2h-2.2zM305.24 260.72h2.2v2.2h-2.2zM307.36 78.4h2.2v2.2h-2.2zM307.36 95.36h2.2v2.2h-2.2zM307.36 112.32h2.2v2.2h-2.2zM307.36 129.28h2.2v2.2h-2.2zM307.36 146.24h2.2v2.2h-2.2zM307.36 163.2h2.2v2.2h-2.2zM307.36 180.16h2.2v2.2h-2.2zM307.36 197.12h2.2v2.2h-2.2zM307.36 214.08h2.2v2.2h-2.2zM307.36 231.04h2.2v2.2h-2.2zM307.36 248h2.2v2.2h-2.2zM307.36 264.96h2.2v2.2h-2.2zM309.48 84.76h2.2v2.2h-2.2zM309.48 101.72h2.2v2.2h-2.2zM309.48 118.68h2.2v2.2h-2.2zM309.48 135.64h2.2v2.2h-2.2zM309.48 152.6h2.2v2.2h-2.2zM309.48 169.56h2.2v2.2h-2.2zM309.48 186.52h2.2v2.2h-2.2zM309.48 203.48h2.2v2.2h-2.2zM309.48 220.44h2.2v2.2h-2.2zM309.48 237.4h2.2v2.2h-2.2zM309.48 254.36h2.2v2.2h-2.2zM311.6 89h2.2v2.2h-2.2zM311.6 105.96h2.2v2.2h-2.2zM311.6 122.92h2.2v2.2h-2.2zM311.6 139.88h2.2v2.2h-2.2zM311.6 156.84h2.2v2.2h-2.2zM311.6 173.8h2.2v2.2h-2.2zM311.6 190.76h2.2v2.2h-2.2zM311.6 207.72h2.2v2.2h-2.2zM311.6 224.68h2.2v2.2h-2.2zM311.6 241.64h2.2v2.2h-2.2zM311.6 258.6h2.2v2.2h-2.2zM313.72 80.52h2.2v2.2h-2.2zM313.72 97.48h2.2v2.2h-2.2zM313.72 114.44h2.2v2.2h-2.2zM313.72 131.4h2.2v2.2h-2.2zM313.72 148.36h2.2v2.2h-2.2zM313.72 165.32h2.2v2.2h-2.2zM313.72 182.28h2.2v2.2h-2.2zM313.72 199.24h2.2v2.2h-2.2zM313.72 216.2h2.2v2.2h-2.2zM313.72 233.16h2.2v2.2h-2.2zM313.72 250.12h2.2v2.2h-2.2zM315.84 93.24h2.2v2.2h-2.2zM315.84 110.2h2.2v2.2h-2.2zM315.84 127.16h2.2v2.2h-2.2zM315.84 144.12h2.2v2.2h-2.2zM315.84 161.08h2.2v2.2h-2.2zM315.84 178.04h2.2v2.2h-2.2zM315.84 195h2.2v2.2h-2.2zM315.84 211.96h2.2v2.2h-2.2zM315.84 228.92h2.2v2.2h-2.2zM315.84 245.88h2.2v2.2h-2.2zM315.84 262.84h2.2v2.2h-2.2zM317.96 86.88h2.2v2.2h-2.2zM317.96 103.84h2.2v2.2h-2.2zM317.96 120.8h2.2v2.2h-2.2zM317.96 137.76h2.2v2.2h-2.2zM317.96 154.72h2.2v2.2h-2.2zM317.96 171.68h2.2v2.2h-2.2zM317.96 188.64h2.2v2.2h-2.2zM317.96 205.6h2.2v2.2h-2.2zM317.96 222.56h2.2v2.2h-2.2zM317.96 239.52h2.2v2.2h-2.2zM317.96 256.48h2.2v2.2h-2.2zM320.08 82.64h2.2v2.2h-2.2zM320.08 99.6h2.2v2.2h-2.2zM320.08 116.56h2.2v2.2h-2.2zM320.08 133.52h2.2v2.2h-2.2zM320.08 150.48h2.2v2.2h-2.2zM320.08 167.44h2.2v2.2h-2.2zM320.08 184.4h2.2v2.2h-2.2zM320.08 201.36h2.2v2.2h-2.2zM320.08 218.32h2.2v2.2h-2.2zM320.08 235.28h2.2v2.2h-2.2zM320.08 252.24h2.2v2.2h-2.2z"/></g><rect x="294.86" y="79.58" width="25.61" height="186.82" fill="none" stroke="#000" stroke-width="1.35"/><g clip-path="url(#c20)"><rect x="346.18" y="72.7" width="27.07" height="193.7" fill="#fff"/><path fill="#000" d="M347.64 74.16h2.2v2.2h-2.2zM347.64 78.4h2.2v2.2h-2.2zM347.64 82.64h2.2v2.2h-2.2zM347.64 86.88h2.2v2.2h-2.2zM347.64 91.12h2.2v2.2h-2.2zM347.64 95.36h2.2v2.2h-2.2zM347.64 99.6h2.2v2.2h-2.2zM347.64 103.84h2.2v2.2h-2.2zM347.64 108.08h2.2v2.2h-2.2zM347.64 112.32h2.2v2.2h-2.2zM347.64 116.56h2.2v2.2h-2.2zM347.64 120.8h2.2v2.2h-2.2zM347.64 125.04h2.2v2.2h-2.2zM347.64 129.28h2.2v2.2h-2.2zM347.64 133.52h2.2v2.2h-2.2zM347.64 137.76h2.2v2.2h-2.2zM347.64 142h2.2v2.2h-2.2zM347.64 146.24h2.2v2.2h-2.2zM347.64 150.48h2.2v2.2h-2.2zM347.64 154.72h2.2v2.2h-2.2zM347.64 158.96h2.2v2.2h-2.2zM347.64 163.2h2.2v2.2h-2.2zM347.64 167.44h2.2v2.2h-2.2zM347.64 171.68h2.2v2.2h-2.2zM347.64 175.92h2.2v2.2h-2.2zM347.64 180.16h2.2v2.2h-2.2zM347.64 184.4h2.2v2.2h-2.2zM347.64 188.64h2.2v2.2h-2.2zM347.64 192.88h2.2v2.2h-2.2zM347.64 197.12h2.2v2.2h-2.2zM347.64 201.36h2.2v2.2h-2.2zM347.64 205.6h2.2v2.2h-2.2zM347.64 209.84h2.2v2.2h-2.2zM347.64 214.08h2.2v2.2h-2.2zM347.64 218.32h2.2v2.2h-2.2zM347.64 222.56h2.2v2.2h-2.2zM347.64 226.8h2.2v2.2h-2.2zM347.64 231.04h2.2v2.2h-2.2zM347.64 235.28h2.2v2.2h-2.2zM347.64 239.52h2.2v2.2h-2.2zM347.64 243.76h2.2v2.2h-2.2zM347.64 248h2.2v2.2h-2.2zM347.64 252.24h2.2v2.2h-2.2zM347.64 256.48h2.2v2.2h-2.2zM347.64 260.72h2.2v2.2h-2.2zM347.64 264.96h2.2v2.2h-2.2zM351.88 72.04h2.2v2.2h-2.2zM351.88 76.28h2.2v2.2h-2.2zM351.88 80.52h2.2v2.2h-2.2zM351.88 84.76h2.2v2.2h-2.2zM351.88 89h2.2v2.2h-2.2zM351.88 93.24h2.2v2.2h-2.2zM351.88 97.48h2.2v2.2h-2.2zM351.88 101.72h2.2v2.2h-2.2zM351.88 105.96h2.2v2.2h-2.2zM351.88 110.2h2.2v2.2h-2.2zM351.88 114.44h2.2v2.2h-2.2zM351.88 118.68h2.2v2.2h-2.2zM351.88 122.92h2.2v2.2h-2.2zM351.88 127.16h2.2v2.2h-2.2zM351.88 131.4h2.2v2.2h-2.2zM351.88 135.64h2.2v2.2h-2.2zM351.88 139.88h2.2v2.2h-2.2zM351.88 144.12h2.2v2.2h-2.2zM351.88 148.36h2.2v2.2h-2.2zM351.88 152.6h2.2v2.2h-2.2zM351.88 156.84h2.2v2.2h-2.2zM351.88 161.08h2.2v2.2h-2.2zM351.88 165.32h2.2v2.2h-2.2zM351.88 169.56h2.2v2.2h-2.2zM351.88 173.8h2.2v2.2h-2.2zM351.88 178.04h2.2v2.2h-2.2zM351.88 182.28h2.2v2.2h-2.2zM351.88 186.52h2.2v2.2h-2.2zM351.88 190.76h2.2v2.2h-2.2zM351.88 195h2.2v2.2h-2.2zM351.88 199.24h2.2v2.2h-2.2zM351.88 203.48h2.2v2.2h-2.2zM351.88 207.72h2.2v2.2h-2.2zM351.88 211.96h2.2v2.2h-2.2zM351.88 216.2h2.2v2.2h-2.2zM351.88 220.44h2.2v2.2h-2.2zM351.88 224.68h2.2v2.2h-2.2zM351.88 228.92h2.2v2.2h-2.2zM351.88 233.16h2.2v2.2h-2.2zM351.88 237.4h2.2v2.2h-2.2zM351.88 241.64h2.2v2.2h-2.2zM351.88 245.88h2.2v2.2h-2.2zM351.88 250.12h2.2v2.2h-2.2zM351.88 254.36h2.2v2.2h-2.2zM351.88 258.6h2.2v2.2h-2.2zM351.88 262.84h2.2v2.2h-2.2zM356.12 74.16h2.2v2.2h-2.2zM356.12 78.4h2.2v2.2h-2.2zM356.12 82.64h2.2v2.2h-2.2zM356.12 86.88h2.2v2.2h-2.2zM356.12 91.12h2.2v2.2h-2.2zM356.12 95.36h2.2v2.2h-2.2zM356.12 99.6h2.2v2.2h-2.2zM356.12 103.84h2.2v2.2h-2.2zM356.12 108.08h2.2v2.2h-2.2zM356.12 112.32h2.2v2.2h-2.2zM356.12 116.56h2.2v2.2h-2.2zM356.12 120.8h2.2v2.2h-2.2zM356.12 125.04h2.2v2.2h-2.2zM356.12 129.28h2.2v2.2h-2.2zM356.12 133.52h2.2v2.2h-2.2zM356.12 137.76h2.2v2.2h-2.2zM356.12 142h2.2v2.2h-2.2zM356.12 146.24h2.2v2.2h-2.2zM356.12 150.48h2.2v2.2h-2.2zM356.12 154.72h2.2v2.2h-2.2zM356.12 158.96h2.2v2.2h-2.2zM356.12 163.2h2.2v2.2h-2.2zM356.12 167.44h2.2v2.2h-2.2zM356.12 171.68h2.2v2.2h-2.2zM356.12 175.92h2.2v2.2h-2.2zM356.12 180.16h2.2v2.2h-2.2zM356.12 184.4h2.2v2.2h-2.2zM356.12 188.64h2.2v2.2h-2.2zM356.12 192.88h2.2v2.2h-2.2zM356.12 197.12h2.2v2.2h-2.2zM356.12 201.36h2.2v2.2h-2.2zM356.12 205.6h2.2v2.2h-2.2zM356.12 209.84h2.2v2.2h-2.2zM356.12 214.08h2.2v2.2h-2.2zM356.12 218.32h2.2v2.2h-2.2zM356.12 222.56h2.2v2.2h-2.2zM356.12 226.8h2.2v2.2h-2.2zM356.12 231.04h2.2v2.2h-2.2zM356.12 235.28h2.2v2.2h-2.2zM356.12 239.52h2.2v2.2h-2.2zM356.12 243.76h2.2v2.2h-2.2zM356.12 248h2.2v2.2h-2.2zM356.12 252.24h2.2v2.2h-2.2zM356.12 256.48h2.2v2.2h-2.2zM356.12 260.72h2.2v2.2h-2.2zM356.12 264.96h2.2v2.2h-2.2zM360.36 72.04h2.2v2.2h-2.2zM360.36 76.28h2.2v2.2h-2.2zM360.36 80.52h2.2v2.2h-2.2zM360.36 84.76h2.2v2.2h-2.2zM360.36 89h2.2v2.2h-2.2zM360.36 93.24h2.2v2.2h-2.2zM360.36 97.48h2.2v2.2h-2.2zM360.36 101.72h2.2v2.2h-2.2zM360.36 105.96h2.2v2.2h-2.2zM360.36 110.2h2.2v2.2h-2.2zM360.36 114.44h2.2v2.2h-2.2zM360.36 118.68h2.2v2.2h-2.2zM360.36 122.92h2.2v2.2h-2.2zM360.36 127.16h2.2v2.2h-2.2zM360.36 131.4h2.2v2.2h-2.2zM360.36 135.64h2.2v2.2h-2.2zM360.36 139.88h2.2v2.2h-2.2zM360.36 144.12h2.2v2.2h-2.2zM360.36 148.36h2.2v2.2h-2.2zM360.36 152.6h2.2v2.2h-2.2zM360.36 156.84h2.2v2.2h-2.2zM360.36 161.08h2.2v2.2h-2.2zM360.36 165.32h2.2v2.2h-2.2zM360.36 169.56h2.2v2.2h-2.2zM360.36 173.8h2.2v2.2h-2.2zM360.36 178.04h2.2v2.2h-2.2zM360.36 182.28h2.2v2.2h-2.2zM360.36 186.52h2.2v2.2h-2.2zM360.36 190.76h2.2v2.2h-2.2zM360.36 195h2.2v2.2h-2.2zM360.36 199.24h2.2v2.2h-2.2zM360.36 203.48h2.2v2.2h-2.2zM360.36 207.72h2.2v2.2h-2.2zM360.36 211.96h2.2v2.2h-2.2zM360.36 216.2h2.2v2.2h-2.2zM360.36 220.44h2.2v2.2h-2.2zM360.36 224.68h2.2v2.2h-2.2zM360.36 228.92h2.2v2.2h-2.2zM360.36 233.16h2.2v2.2h-2.2zM360.36 237.4h2.2v2.2h-2.2zM360.36 241.64h2.2v2.2h-2.2zM360.36 245.88h2.2v2.2h-2.2zM360.36 250.12h2.2v2.2h-2.2zM360.36 254.36h2.2v2.2h-2.2zM360.36 258.6h2.2v2.2h-2.2zM360.36 262.84h2.2v2.2h-2.2zM364.6 74.16h2.2v2.2h-2.2zM364.6 78.4h2.2v2.2h-2.2zM364.6 82.64h2.2v2.2h-2.2zM364.6 86.88h2.2v2.2h-2.2zM364.6 91.12h2.2v2.2h-2.2zM364.6 95.36h2.2v2.2h-2.2zM364.6 99.6h2.2v2.2h-2.2zM364.6 103.84h2.2v2.2h-2.2zM364.6 108.08h2.2v2.2h-2.2zM364.6 112.32h2.2v2.2h-2.2zM364.6 116.56h2.2v2.2h-2.2zM364.6 120.8h2.2v2.2h-2.2zM364.6 125.04h2.2v2.2h-2.2zM364.6 129.28h2.2v2.2h-2.2zM364.6 133.52h2.2v2.2h-2.2zM364.6 137.76h2.2v2.2h-2.2zM364.6 142h2.2v2.2h-2.2zM364.6 146.24h2.2v2.2h-2.2zM364.6 150.48h2.2v2.2h-2.2zM364.6 154.72h2.2v2.2h-2.2zM364.6 158.96h2.2v2.2h-2.2zM364.6 163.2h2.2v2.2h-2.2zM364.6 167.44h2.2v2.2h-2.2zM364.6 171.68h2.2v2.2h-2.2zM364.6 175.92h2.2v2.2h-2.2zM364.6 180.16h2.2v2.2h-2.2zM364.6 184.4h2.2v2.2h-2.2zM364.6 188.64h2.2v2.2h-2.2zM364.6 192.88h2.2v2.2h-2.2zM364.6 197.12h2.2v2.2h-2.2zM364.6 201.36h2.2v2.2h-2.2zM364.6 205.6h2.2v2.2h-2.2zM364.6 209.84h2.2v2.2h-2.2zM364.6 214.08h2.2v2.2h-2.2zM364.6 218.32h2.2v2.2h-2.2zM364.6 222.56h2.2v2.2h-2.2zM364.6 226.8h2.2v2.2h-2.2zM364.6 231.04h2.2v2.2h-2.2zM364.6 235.28h2.2v2.2h-2.2zM364.6 239.52h2.2v2.2h-2.2zM364.6 243.76h2.2v2.2h-2.2zM364.6 248h2.2v2.2h-2.2zM364.6 252.24h2.2v2.2h-2.2zM364.6 256.48h2.2v2.2h-2.2zM364.6 260.72h2.2v2.2h-2.2zM364.6 264.96h2.2v2.2h-2.2zM368.84 72.04h2.2v2.2h-2.2zM368.84 76.28h2.2v2.2h-2.2zM368.84 80.52h2.2v2.2h-2.2zM368.84 84.76h2.2v2.2h-2.2zM368.84 89h2.2v2.2h-2.2zM368.84 93.24h2.2v2.2h-2.2zM368.84 97.48h2.2v2.2h-2.2zM368.84 101.72h2.2v2.2h-2.2zM368.84 105.96h2.2v2.2h-2.2zM368.84 110.2h2.2v2.2h-2.2zM368.84 114.44h2.2v2.2h-2.2zM368.84 118.68h2.2v2.2h-2.2zM368.84 122.92h2.2v2.2h-2.2zM368.84 127.16h2.2v2.2h-2.2zM368.84 131.4h2.2v2.2h-2.2zM368.84 135.64h2.2v2.2h-2.2zM368.84 139.88h2.2v2.2h-2.2zM368.84 144.12h2.2v2.2h-2.2zM368.84 148.36h2.2v2.2h-2.2zM368.84 152.6h2.2v2.2h-2.2zM368.84 156.84h2.2v2.2h-2.2zM368.84 161.08h2.2v2.2h-2.2zM368.84 165.32h2.2v2.2h-2.2zM368.84 169.56h2.2v2.2h-2.2zM368.84 173.8h2.2v2.2h-2.2zM368.84 178.04h2.2v2.2h-2.2zM368.84 182.28h2.2v2.2h-2.2zM368.84 186.52h2.2v2.2h-2.2zM368.84 190.76h2.2v2.2h-2.2zM368.84 195h2.2v2.2h-2.2zM368.84 199.24h2.2v2.2h-2.2zM368.84 203.48h2.2v2.2h-2.2zM368.84 207.72h2.2v2.2h-2.2zM368.84 211.96h2.2v2.2h-2.2zM368.84 216.2h2.2v2.2h-2.2zM368.84 220.44h2.2v2.2h-2.2zM368.84 224.68h2.2v2.2h-2.2zM368.84 228.92h2.2v2.2h-2.2zM368.84 233.16h2.2v2.2h-2.2zM368.84 237.4h2.2v2.2h-2.2zM368.84 241.64h2.2v2.2h-2.2zM368.84 245.88h2.2v2.2h-2.2zM368.84 250.12h2.2v2.2h-2.2zM368.84 254.36h2.2v2.2h-2.2zM368.84 258.6h2.2v2.2h-2.2zM368.84 262.84h2.2v2.2h-2.2zM373.08 74.16h2.2v2.2h-2.2zM373.08 78.4h2.2v2.2h-2.2zM373.08 82.64h2.2v2.2h-2.2zM373.08 86.88h2.2v2.2h-2.2zM373.08 91.12h2.2v2.2h-2.2zM373.08 95.36h2.2v2.2h-2.2zM373.08 99.6h2.2v2.2h-2.2zM373.08 103.84h2.2v2.2h-2.2zM373.08 108.08h2.2v2.2h-2.2zM373.08 112.32h2.2v2.2h-2.2zM373.08 116.56h2.2v2.2h-2.2zM373.08 120.8h2.2v2.2h-2.2zM373.08 125.04h2.2v2.2h-2.2zM373.08 129.28h2.2v2.2h-2.2zM373.08 133.52h2.2v2.2h-2.2zM373.08 137.76h2.2v2.2h-2.2zM373.08 142h2.2v2.2h-2.2zM373.08 146.24h2.2v2.2h-2.2zM373.08 150.48h2.2v2.2h-2.2zM373.08 154.72h2.2v2.2h-2.2zM373.08 158.96h2.2v2.2h-2.2zM373.08 163.2h2.2v2.2h-2.2zM373.08 167.44h2.2v2.2h-2.2zM373.08 171.68h2.2v2.2h-2.2zM373.08 175.92h2.2v2.2h-2.2zM373.08 180.16h2.2v2.2h-2.2zM373.08 184.4h2.2v2.2h-2.2zM373.08 188.64h2.2v2.2h-2.2zM373.08 192.88h2.2v2.2h-2.2zM373.08 197.12h2.2v2.2h-2.2zM373.08 201.36h2.2v2.2h-2.2zM373.08 205.6h2.2v2.2h-2.2zM373.08 209.84h2.2v2.2h-2.2zM373.08 214.08h2.2v2.2h-2.2zM373.08 218.32h2.2v2.2h-2.2zM373.08 222.56h2.2v2.2h-2.2zM373.08 226.8h2.2v2.2h-2.2zM373.08 231.04h2.2v2.2h-2.2zM373.08 235.28h2.2v2.2h-2.2zM373.08 239.52h2.2v2.2h-2.2zM373.08 243.76h2.2v2.2h-2.2zM373.08 248h2.2v2.2h-2.2zM373.08 252.24h2.2v2.2h-2.2zM373.08 256.48h2.2v2.2h-2.2zM373.08 260.72h2.2v2.2h-2.2zM373.08 264.96h2.2v2.2h-2.2z"/></g><rect x="346.86" y="73.38" width="25.72" height="193.02" fill="none" stroke="#000" stroke-width="1.35"/><g clip-path="url(#c21)"><rect x="378.28" y="61" width="27.74" height="205.4" fill="#000"/><path fill="#fff" d="M377.36 59.36h2.12v2.12h-2.12zM377.36 67.84h2.12v2.12h-2.12zM377.36 76.32h2.12v2.12h-2.12zM377.36 84.8h2.12v2.12h-2.12zM377.36 93.28h2.12v2.12h-2.12zM377.36 101.76h2.12v2.12h-2.12zM377.36 110.24h2.12v2.12h-2.12zM377.36 118.72h2.12v2.12h-2.12zM377.36 127.2h2.12v2.12h-2.12zM377.36 135.68h2.12v2.12h-2.12zM377.36 144.16h2.12v2.12h-2.12zM377.36 152.64h2.12v2.12h-2.12zM377.36 161.12h2.12v2.12h-2.12zM377.36 169.6h2.12v2.12h-2.12zM377.36 178.08h2.12v2.12h-2.12zM377.36 186.56h2.12v2.12h-2.12zM377.36 195.04h2.12v2.12h-2.12zM377.36 203.52h2.12v2.12h-2.12zM377.36 212h2.12v2.12h-2.12zM377.36 220.48h2.12v2.12h-2.12zM377.36 228.96h2.12v2.12h-2.12zM377.36 237.44h2.12v2.12h-2.12zM377.36 245.92h2.12v2.12h-2.12zM377.36 254.4h2.12v2.12h-2.12zM377.36 262.88h2.12v2.12h-2.12zM381.6 63.6h2.12v2.12h-2.12zM381.6 72.08h2.12v2.12h-2.12zM381.6 80.56h2.12v2.12h-2.12zM381.6 89.04h2.12v2.12h-2.12zM381.6 97.52h2.12v2.12h-2.12zM381.6 106h2.12v2.12h-2.12zM381.6 114.48h2.12v2.12h-2.12zM381.6 122.96h2.12v2.12h-2.12zM381.6 131.44h2.12v2.12h-2.12zM381.6 139.92h2.12v2.12h-2.12zM381.6 148.4h2.12v2.12h-2.12zM381.6 156.88h2.12v2.12h-2.12zM381.6 165.36h2.12v2.12h-2.12zM381.6 173.84h2.12v2.12h-2.12zM381.6 182.32h2.12v2.12h-2.12zM381.6 190.8h2.12v2.12h-2.12zM381.6 199.28h2.12v2.12h-2.12zM381.6 207.76h2.12v2.12h-2.12zM381.6 216.24h2.12v2.12h-2.12zM381.6 224.72h2.12v2.12h-2.12zM381.6 233.2h2.12v2.12h-2.12zM381.6 241.68h2.12v2.12h-2.12zM381.6 250.16h2.12v2.12h-2.12zM381.6 258.64h2.12v2.12h-2.12zM385.84 59.36h2.12v2.12h-2.12zM385.84 67.84h2.12v2.12h-2.12zM385.84 76.32h2.12v2.12h-2.12zM385.84 84.8h2.12v2.12h-2.12zM385.84 93.28h2.12v2.12h-2.12zM385.84 101.76h2.12v2.12h-2.12zM385.84 110.24h2.12v2.12h-2.12zM385.84 118.72h2.12v2.12h-2.12zM385.84 127.2h2.12v2.12h-2.12zM385.84 135.68h2.12v2.12h-2.12zM385.84 144.16h2.12v2.12h-2.12zM385.84 152.64h2.12v2.12h-2.12zM385.84 161.12h2.12v2.12h-2.12zM385.84 169.6h2.12v2.12h-2.12zM385.84 178.08h2.12v2.12h-2.12zM385.84 186.56h2.12v2.12h-2.12zM385.84 195.04h2.12v2.12h-2.12zM385.84 203.52h2.12v2.12h-2.12zM385.84 212h2.12v2.12h-2.12zM385.84 220.48h2.12v2.12h-2.12zM385.84 228.96h2.12v2.12h-2.12zM385.84 237.44h2.12v2.12h-2.12zM385.84 245.92h2.12v2.12h-2.12zM385.84 254.4h2.12v2.12h-2.12zM385.84 262.88h2.12v2.12h-2.12zM390.08 63.6h2.12v2.12h-2.12zM390.08 72.08h2.12v2.12h-2.12zM390.08 80.56h2.12v2.12h-2.12zM390.08 89.04h2.12v2.12h-2.12zM390.08 97.52h2.12v2.12h-2.12zM390.08 106h2.12v2.12h-2.12zM390.08 114.48h2.12v2.12h-2.12zM390.08 122.96h2.12v2.12h-2.12zM390.08 131.44h2.12v2.12h-2.12zM390.08 139.92h2.12v2.12h-2.12zM390.08 148.4h2.12v2.12h-2.12zM390.08 156.88h2.12v2.12h-2.12zM390.08 165.36h2.12v2.12h-2.12zM390.08 173.84h2.12v2.12h-2.12zM390.08 182.32h2.12v2.12h-2.12zM390.08 190.8h2.12v2.12h-2.12zM390.08 199.28h2.12v2.12h-2.12zM390.08 207.76h2.12v2.12h-2.12zM390.08 216.24h2.12v2.12h-2.12zM390.08 224.72h2.12v2.12h-2.12zM390.08 233.2h2.12v2.12h-2.12zM390.08 241.68h2.12v2.12h-2.12zM390.08 250.16h2.12v2.12h-2.12zM390.08 258.64h2.12v2.12h-2.12zM394.32 59.36h2.12v2.12h-2.12zM394.32 67.84h2.12v2.12h-2.12zM394.32 76.32h2.12v2.12h-2.12zM394.32 84.8h2.12v2.12h-2.12zM394.32 93.28h2.12v2.12h-2.12zM394.32 101.76h2.12v2.12h-2.12zM394.32 110.24h2.12v2.12h-2.12zM394.32 118.72h2.12v2.12h-2.12zM394.32 127.2h2.12v2.12h-2.12zM394.32 135.68h2.12v2.12h-2.12zM394.32 144.16h2.12v2.12h-2.12zM394.32 152.64h2.12v2.12h-2.12zM394.32 161.12h2.12v2.12h-2.12zM394.32 169.6h2.12v2.12h-2.12zM394.32 178.08h2.12v2.12h-2.12zM394.32 186.56h2.12v2.12h-2.12zM394.32 195.04h2.12v2.12h-2.12zM394.32 203.52h2.12v2.12h-2.12zM394.32 212h2.12v2.12h-2.12zM394.32 220.48h2.12v2.12h-2.12zM394.32 228.96h2.12v2.12h-2.12zM394.32 237.44h2.12v2.12h-2.12zM394.32 245.92h2.12v2.12h-2.12zM394.32 254.4h2.12v2.12h-2.12zM394.32 262.88h2.12v2.12h-2.12zM398.56 63.6h2.12v2.12h-2.12zM398.56 72.08h2.12v2.12h-2.12zM398.56 80.56h2.12v2.12h-2.12zM398.56 89.04h2.12v2.12h-2.12zM398.56 97.52h2.12v2.12h-2.12zM398.56 106h2.12v2.12h-2.12zM398.56 114.48h2.12v2.12h-2.12zM398.56 122.96h2.12v2.12h-2.12zM398.56 131.44h2.12v2.12h-2.12zM398.56 139.92h2.12v2.12h-2.12zM398.56 148.4h2.12v2.12h-2.12zM398.56 156.88h2.12v2.12h-2.12zM398.56 165.36h2.12v2.12h-2.12zM398.56 173.84h2.12v2.12h-2.12zM398.56 182.32h2.12v2.12h-2.12zM398.56 190.8h2.12v2.12h-2.12zM398.56 199.28h2.12v2.12h-2.12zM398.56 207.76h2.12v2.12h-2.12zM398.56 216.24h2.12v2.12h-2.12zM398.56 224.72h2.12v2.12h-2.12zM398.56 233.2h2.12v2.12h-2.12zM398.56 241.68h2.12v2.12h-2.12zM398.56 250.16h2.12v2.12h-2.12zM398.56 258.64h2.12v2.12h-2.12zM402.8 59.36h2.12v2.12h-2.12zM402.8 67.84h2.12v2.12h-2.12zM402.8 76.32h2.12v2.12h-2.12zM402.8 84.8h2.12v2.12h-2.12zM402.8 93.28h2.12v2.12h-2.12zM402.8 101.76h2.12v2.12h-2.12zM402.8 110.24h2.12v2.12h-2.12zM402.8 118.72h2.12v2.12h-2.12zM402.8 127.2h2.12v2.12h-2.12zM402.8 135.68h2.12v2.12h-2.12zM402.8 144.16h2.12v2.12h-2.12zM402.8 152.64h2.12v2.12h-2.12zM402.8 161.12h2.12v2.12h-2.12zM402.8 169.6h2.12v2.12h-2.12zM402.8 178.08h2.12v2.12h-2.12zM402.8 186.56h2.12v2.12h-2.12zM402.8 195.04h2.12v2.12h-2.12zM402.8 203.52h2.12v2.12h-2.12zM402.8 212h2.12v2.12h-2.12zM402.8 220.48h2.12v2.12h-2.12zM402.8 228.96h2.12v2.12h-2.12zM402.8 237.44h2.12v2.12h-2.12zM402.8 245.92h2.12v2.12h-2.12zM402.8 254.4h2.12v2.12h-2.12zM402.8 262.88h2.12v2.12h-2.12z"/></g><rect x="378.95" y="61.67" width="26.39" height="204.72" fill="none" stroke="#000" stroke-width="1.35"/><g clip-path="url(#c22)"><rect x="411.26" y="85.1" width="26.96" height="181.3" fill="#fff"/><path fill="#000" d="M409.12 95.36h2.2v2.2h-2.2zM409.12 112.32h2.2v2.2h-2.2zM409.12 129.28h2.2v2.2h-2.2zM409.12 146.24h2.2v2.2h-2.2zM409.12 163.2h2.2v2.2h-2.2zM409.12 180.16h2.2v2.2h-2.2zM409.12 197.12h2.2v2.2h-2.2zM409.12 214.08h2.2v2.2h-2.2zM409.12 231.04h2.2v2.2h-2.2zM409.12 248h2.2v2.2h-2.2zM409.12 264.96h2.2v2.2h-2.2zM411.24 84.76h2.2v2.2h-2.2zM411.24 101.72h2.2v2.2h-2.2zM411.24 118.68h2.2v2.2h-2.2zM411.24 135.64h2.2v2.2h-2.2zM411.24 152.6h2.2v2.2h-2.2zM411.24 169.56h2.2v2.2h-2.2zM411.24 186.52h2.2v2.2h-2.2zM411.24 203.48h2.2v2.2h-2.2zM411.24 220.44h2.2v2.2h-2.2zM411.24 237.4h2.2v2.2h-2.2zM411.24 254.36h2.2v2.2h-2.2zM413.36 89h2.2v2.2h-2.2zM413.36 105.96h2.2v2.2h-2.2zM413.36 122.92h2.2v2.2h-2.2zM413.36 139.88h2.2v2.2h-2.2zM413.36 156.84h2.2v2.2h-2.2zM413.36 173.8h2.2v2.2h-2.2zM413.36 190.76h2.2v2.2h-2.2zM413.36 207.72h2.2v2.2h-2.2zM413.36 224.68h2.2v2.2h-2.2zM413.36 241.64h2.2v2.2h-2.2zM413.36 258.6h2.2v2.2h-2.2zM415.48 97.48h2.2v2.2h-2.2zM415.48 114.44h2.2v2.2h-2.2zM415.48 131.4h2.2v2.2h-2.2zM415.48 148.36h2.2v2.2h-2.2zM415.48 165.32h2.2v2.2h-2.2zM415.48 182.28h2.2v2.2h-2.2zM415.48 199.24h2.2v2.2h-2.2zM415.48 216.2h2.2v2.2h-2.2zM415.48 233.16h2.2v2.2h-2.2zM415.48 250.12h2.2v2.2h-2.2zM417.6 93.24h2.2v2.2h-2.2zM417.6 110.2h2.2v2.2h-2.2zM417.6 127.16h2.2v2.2h-2.2zM417.6 144.12h2.2v2.2h-2.2zM417.6 161.08h2.2v2.2h-2.2zM417.6 178.04h2.2v2.2h-2.2zM417.6 195h2.2v2.2h-2.2zM417.6 211.96h2.2v2.2h-2.2zM417.6 228.92h2.2v2.2h-2.2zM417.6 245.88h2.2v2.2h-2.2zM417.6 262.84h2.2v2.2h-2.2zM419.72 86.88h2.2v2.2h-2.2zM419.72 103.84h2.2v2.2h-2.2zM419.72 120.8h2.2v2.2h-2.2zM419.72 137.76h2.2v2.2h-2.2zM419.72 154.72h2.2v2.2h-2.2zM419.72 171.68h2.2v2.2h-2.2zM419.72 188.64h2.2v2.2h-2.2zM419.72 205.6h2.2v2.2h-2.2zM419.72 222.56h2.2v2.2h-2.2zM419.72 239.52h2.2v2.2h-2.2zM419.72 256.48h2.2v2.2h-2.2zM421.84 99.6h2.2v2.2h-2.2zM421.84 116.56h2.2v2.2h-2.2zM421.84 133.52h2.2v2.2h-2.2zM421.84 150.48h2.2v2.2h-2.2zM421.84 167.44h2.2v2.2h-2.2zM421.84 184.4h2.2v2.2h-2.2zM421.84 201.36h2.2v2.2h-2.2zM421.84 218.32h2.2v2.2h-2.2zM421.84 235.28h2.2v2.2h-2.2zM421.84 252.24h2.2v2.2h-2.2zM423.96 91.12h2.2v2.2h-2.2zM423.96 108.08h2.2v2.2h-2.2zM423.96 125.04h2.2v2.2h-2.2zM423.96 142h2.2v2.2h-2.2zM423.96 158.96h2.2v2.2h-2.2zM423.96 175.92h2.2v2.2h-2.2zM423.96 192.88h2.2v2.2h-2.2zM423.96 209.84h2.2v2.2h-2.2zM423.96 226.8h2.2v2.2h-2.2zM423.96 243.76h2.2v2.2h-2.2zM423.96 260.72h2.2v2.2h-2.2zM426.08 95.36h2.2v2.2h-2.2zM426.08 112.32h2.2v2.2h-2.2zM426.08 129.28h2.2v2.2h-2.2zM426.08 146.24h2.2v2.2h-2.2zM426.08 163.2h2.2v2.2h-2.2zM426.08 180.16h2.2v2.2h-2.2zM426.08 197.12h2.2v2.2h-2.2zM426.08 214.08h2.2v2.2h-2.2zM426.08 231.04h2.2v2.2h-2.2zM426.08 248h2.2v2.2h-2.2zM426.08 264.96h2.2v2.2h-2.2zM428.2 84.76h2.2v2.2h-2.2zM428.2 101.72h2.2v2.2h-2.2zM428.2 118.68h2.2v2.2h-2.2zM428.2 135.64h2.2v2.2h-2.2zM428.2 152.6h2.2v2.2h-2.2zM428.2 169.56h2.2v2.2h-2.2zM428.2 186.52h2.2v2.2h-2.2zM428.2 203.48h2.2v2.2h-2.2zM428.2 220.44h2.2v2.2h-2.2zM428.2 237.4h2.2v2.2h-2.2zM428.2 254.36h2.2v2.2h-2.2zM430.32 89h2.2v2.2h-2.2zM430.32 105.96h2.2v2.2h-2.2zM430.32 122.92h2.2v2.2h-2.2zM430.32 139.88h2.2v2.2h-2.2zM430.32 156.84h2.2v2.2h-2.2zM430.32 173.8h2.2v2.2h-2.2zM430.32 190.76h2.2v2.2h-2.2zM430.32 207.72h2.2v2.2h-2.2zM430.32 224.68h2.2v2.2h-2.2zM430.32 241.64h2.2v2.2h-2.2zM430.32 258.6h2.2v2.2h-2.2zM432.44 97.48h2.2v2.2h-2.2zM432.44 114.44h2.2v2.2h-2.2zM432.44 131.4h2.2v2.2h-2.2zM432.44 148.36h2.2v2.2h-2.2zM432.44 165.32h2.2v2.2h-2.2zM432.44 182.28h2.2v2.2h-2.2zM432.44 199.24h2.2v2.2h-2.2zM432.44 216.2h2.2v2.2h-2.2zM432.44 233.16h2.2v2.2h-2.2zM432.44 250.12h2.2v2.2h-2.2zM434.56 93.24h2.2v2.2h-2.2zM434.56 110.2h2.2v2.2h-2.2zM434.56 127.16h2.2v2.2h-2.2zM434.56 144.12h2.2v2.2h-2.2zM434.56 161.08h2.2v2.2h-2.2zM434.56 178.04h2.2v2.2h-2.2zM434.56 195h2.2v2.2h-2.2zM434.56 211.96h2.2v2.2h-2.2zM434.56 228.92h2.2v2.2h-2.2zM434.56 245.88h2.2v2.2h-2.2zM434.56 262.84h2.2v2.2h-2.2zM436.68 86.88h2.2v2.2h-2.2zM436.68 103.84h2.2v2.2h-2.2zM436.68 120.8h2.2v2.2h-2.2zM436.68 137.76h2.2v2.2h-2.2zM436.68 154.72h2.2v2.2h-2.2zM436.68 171.68h2.2v2.2h-2.2zM436.68 188.64h2.2v2.2h-2.2zM436.68 205.6h2.2v2.2h-2.2zM436.68 222.56h2.2v2.2h-2.2zM436.68 239.52h2.2v2.2h-2.2zM436.68 256.48h2.2v2.2h-2.2z"/></g><rect x="411.94" y="85.77" width="25.61" height="180.62" fill="none" stroke="#000" stroke-width="1.35"/><g clip-path="url(#c30)"><rect x="463.25" y="90.9" width="27.07" height="175.5" fill="#fff"/><path fill="#000" d="M462.12 89h2.2v2.2h-2.2zM462.12 93.24h2.2v2.2h-2.2zM462.12 97.48h2.2v2.2h-2.2zM462.12 101.72h2.2v2.2h-2.2zM462.12 105.96h2.2v2.2h-2.2zM462.12 110.2h2.2v2.2h-2.2zM462.12 114.44h2.2v2.2h-2.2zM462.12 118.68h2.2v2.2h-2.2zM462.12 122.92h2.2v2.2h-2.2zM462.12 127.16h2.2v2.2h-2.2zM462.12 131.4h2.2v2.2h-2.2zM462.12 135.64h2.2v2.2h-2.2zM462.12 139.88h2.2v2.2h-2.2zM462.12 144.12h2.2v2.2h-2.2zM462.12 148.36h2.2v2.2h-2.2zM462.12 152.6h2.2v2.2h-2.2zM462.12 156.84h2.2v2.2h-2.2zM462.12 161.08h2.2v2.2h-2.2zM462.12 165.32h2.2v2.2h-2.2zM462.12 169.56h2.2v2.2h-2.2zM462.12 173.8h2.2v2.2h-2.2zM462.12 178.04h2.2v2.2h-2.2zM462.12 182.28h2.2v2.2h-2.2zM462.12 186.52h2.2v2.2h-2.2zM462.12 190.76h2.2v2.2h-2.2zM462.12 195h2.2v2.2h-2.2zM462.12 199.24h2.2v2.2h-2.2zM462.12 203.48h2.2v2.2h-2.2zM462.12 207.72h2.2v2.2h-2.2zM462.12 211.96h2.2v2.2h-2.2zM462.12 216.2h2.2v2.2h-2.2zM462.12 220.44h2.2v2.2h-2.2zM462.12 224.68h2.2v2.2h-2.2zM462.12 228.92h2.2v2.2h-2.2zM462.12 233.16h2.2v2.2h-2.2zM462.12 237.4h2.2v2.2h-2.2zM462.12 241.64h2.2v2.2h-2.2zM462.12 245.88h2.2v2.2h-2.2zM462.12 250.12h2.2v2.2h-2.2zM462.12 254.36h2.2v2.2h-2.2zM462.12 258.6h2.2v2.2h-2.2zM462.12 262.84h2.2v2.2h-2.2zM466.36 91.12h2.2v2.2h-2.2zM466.36 95.36h2.2v2.2h-2.2zM466.36 99.6h2.2v2.2h-2.2zM466.36 103.84h2.2v2.2h-2.2zM466.36 108.08h2.2v2.2h-2.2zM466.36 112.32h2.2v2.2h-2.2zM466.36 116.56h2.2v2.2h-2.2zM466.36 120.8h2.2v2.2h-2.2zM466.36 125.04h2.2v2.2h-2.2zM466.36 129.28h2.2v2.2h-2.2zM466.36 133.52h2.2v2.2h-2.2zM466.36 137.76h2.2v2.2h-2.2zM466.36 142h2.2v2.2h-2.2zM466.36 146.24h2.2v2.2h-2.2zM466.36 150.48h2.2v2.2h-2.2zM466.36 154.72h2.2v2.2h-2.2zM466.36 158.96h2.2v2.2h-2.2zM466.36 163.2h2.2v2.2h-2.2zM466.36 167.44h2.2v2.2h-2.2zM466.36 171.68h2.2v2.2h-2.2zM466.36 175.92h2.2v2.2h-2.2zM466.36 180.16h2.2v2.2h-2.2zM466.36 184.4h2.2v2.2h-2.2zM466.36 188.64h2.2v2.2h-2.2zM466.36 192.88h2.2v2.2h-2.2zM466.36 197.12h2.2v2.2h-2.2zM466.36 201.36h2.2v2.2h-2.2zM466.36 205.6h2.2v2.2h-2.2zM466.36 209.84h2.2v2.2h-2.2zM466.36 214.08h2.2v2.2h-2.2zM466.36 218.32h2.2v2.2h-2.2zM466.36 222.56h2.2v2.2h-2.2zM466.36 226.8h2.2v2.2h-2.2zM466.36 231.04h2.2v2.2h-2.2zM466.36 235.28h2.2v2.2h-2.2zM466.36 239.52h2.2v2.2h-2.2zM466.36 243.76h2.2v2.2h-2.2zM466.36 248h2.2v2.2h-2.2zM466.36 252.24h2.2v2.2h-2.2zM466.36 256.48h2.2v2.2h-2.2zM466.36 260.72h2.2v2.2h-2.2zM466.36 264.96h2.2v2.2h-2.2zM470.6 89h2.2v2.2h-2.2zM470.6 93.24h2.2v2.2h-2.2zM470.6 97.48h2.2v2.2h-2.2zM470.6 101.72h2.2v2.2h-2.2zM470.6 105.96h2.2v2.2h-2.2zM470.6 110.2h2.2v2.2h-2.2zM470.6 114.44h2.2v2.2h-2.2zM470.6 118.68h2.2v2.2h-2.2zM470.6 122.92h2.2v2.2h-2.2zM470.6 127.16h2.2v2.2h-2.2zM470.6 131.4h2.2v2.2h-2.2zM470.6 135.64h2.2v2.2h-2.2zM470.6 139.88h2.2v2.2h-2.2zM470.6 144.12h2.2v2.2h-2.2zM470.6 148.36h2.2v2.2h-2.2zM470.6 152.6h2.2v2.2h-2.2zM470.6 156.84h2.2v2.2h-2.2zM470.6 161.08h2.2v2.2h-2.2zM470.6 165.32h2.2v2.2h-2.2zM470.6 169.56h2.2v2.2h-2.2zM470.6 173.8h2.2v2.2h-2.2zM470.6 178.04h2.2v2.2h-2.2zM470.6 182.28h2.2v2.2h-2.2zM470.6 186.52h2.2v2.2h-2.2zM470.6 190.76h2.2v2.2h-2.2zM470.6 195h2.2v2.2h-2.2zM470.6 199.24h2.2v2.2h-2.2zM470.6 203.48h2.2v2.2h-2.2zM470.6 207.72h2.2v2.2h-2.2zM470.6 211.96h2.2v2.2h-2.2zM470.6 216.2h2.2v2.2h-2.2zM470.6 220.44h2.2v2.2h-2.2zM470.6 224.68h2.2v2.2h-2.2zM470.6 228.92h2.2v2.2h-2.2zM470.6 233.16h2.2v2.2h-2.2zM470.6 237.4h2.2v2.2h-2.2zM470.6 241.64h2.2v2.2h-2.2zM470.6 245.88h2.2v2.2h-2.2zM470.6 250.12h2.2v2.2h-2.2zM470.6 254.36h2.2v2.2h-2.2zM470.6 258.6h2.2v2.2h-2.2zM470.6 262.84h2.2v2.2h-2.2zM474.84 91.12h2.2v2.2h-2.2zM474.84 95.36h2.2v2.2h-2.2zM474.84 99.6h2.2v2.2h-2.2zM474.84 103.84h2.2v2.2h-2.2zM474.84 108.08h2.2v2.2h-2.2zM474.84 112.32h2.2v2.2h-2.2zM474.84 116.56h2.2v2.2h-2.2zM474.84 120.8h2.2v2.2h-2.2zM474.84 125.04h2.2v2.2h-2.2zM474.84 129.28h2.2v2.2h-2.2zM474.84 133.52h2.2v2.2h-2.2zM474.84 137.76h2.2v2.2h-2.2zM474.84 142h2.2v2.2h-2.2zM474.84 146.24h2.2v2.2h-2.2zM474.84 150.48h2.2v2.2h-2.2zM474.84 154.72h2.2v2.2h-2.2zM474.84 158.96h2.2v2.2h-2.2zM474.84 163.2h2.2v2.2h-2.2zM474.84 167.44h2.2v2.2h-2.2zM474.84 171.68h2.2v2.2h-2.2zM474.84 175.92h2.2v2.2h-2.2zM474.84 180.16h2.2v2.2h-2.2zM474.84 184.4h2.2v2.2h-2.2zM474.84 188.64h2.2v2.2h-2.2zM474.84 192.88h2.2v2.2h-2.2zM474.84 197.12h2.2v2.2h-2.2zM474.84 201.36h2.2v2.2h-2.2zM474.84 205.6h2.2v2.2h-2.2zM474.84 209.84h2.2v2.2h-2.2zM474.84 214.08h2.2v2.2h-2.2zM474.84 218.32h2.2v2.2h-2.2zM474.84 222.56h2.2v2.2h-2.2zM474.84 226.8h2.2v2.2h-2.2zM474.84 231.04h2.2v2.2h-2.2zM474.84 235.28h2.2v2.2h-2.2zM474.84 239.52h2.2v2.2h-2.2zM474.84 243.76h2.2v2.2h-2.2zM474.84 248h2.2v2.2h-2.2zM474.84 252.24h2.2v2.2h-2.2zM474.84 256.48h2.2v2.2h-2.2zM474.84 260.72h2.2v2.2h-2.2zM474.84 264.96h2.2v2.2h-2.2zM479.08 89h2.2v2.2h-2.2zM479.08 93.24h2.2v2.2h-2.2zM479.08 97.48h2.2v2.2h-2.2zM479.08 101.72h2.2v2.2h-2.2zM479.08 105.96h2.2v2.2h-2.2zM479.08 110.2h2.2v2.2h-2.2zM479.08 114.44h2.2v2.2h-2.2zM479.08 118.68h2.2v2.2h-2.2zM479.08 122.92h2.2v2.2h-2.2zM479.08 127.16h2.2v2.2h-2.2zM479.08 131.4h2.2v2.2h-2.2zM479.08 135.64h2.2v2.2h-2.2zM479.08 139.88h2.2v2.2h-2.2zM479.08 144.12h2.2v2.2h-2.2zM479.08 148.36h2.2v2.2h-2.2zM479.08 152.6h2.2v2.2h-2.2zM479.08 156.84h2.2v2.2h-2.2zM479.08 161.08h2.2v2.2h-2.2zM479.08 165.32h2.2v2.2h-2.2zM479.08 169.56h2.2v2.2h-2.2zM479.08 173.8h2.2v2.2h-2.2zM479.08 178.04h2.2v2.2h-2.2zM479.08 182.28h2.2v2.2h-2.2zM479.08 186.52h2.2v2.2h-2.2zM479.08 190.76h2.2v2.2h-2.2zM479.08 195h2.2v2.2h-2.2zM479.08 199.24h2.2v2.2h-2.2zM479.08 203.48h2.2v2.2h-2.2zM479.08 207.72h2.2v2.2h-2.2zM479.08 211.96h2.2v2.2h-2.2zM479.08 216.2h2.2v2.2h-2.2zM479.08 220.44h2.2v2.2h-2.2zM479.08 224.68h2.2v2.2h-2.2zM479.08 228.92h2.2v2.2h-2.2zM479.08 233.16h2.2v2.2h-2.2zM479.08 237.4h2.2v2.2h-2.2zM479.08 241.64h2.2v2.2h-2.2zM479.08 245.88h2.2v2.2h-2.2zM479.08 250.12h2.2v2.2h-2.2zM479.08 254.36h2.2v2.2h-2.2zM479.08 258.6h2.2v2.2h-2.2zM479.08 262.84h2.2v2.2h-2.2zM483.32 91.12h2.2v2.2h-2.2zM483.32 95.36h2.2v2.2h-2.2zM483.32 99.6h2.2v2.2h-2.2zM483.32 103.84h2.2v2.2h-2.2zM483.32 108.08h2.2v2.2h-2.2zM483.32 112.32h2.2v2.2h-2.2zM483.32 116.56h2.2v2.2h-2.2zM483.32 120.8h2.2v2.2h-2.2zM483.32 125.04h2.2v2.2h-2.2zM483.32 129.28h2.2v2.2h-2.2zM483.32 133.52h2.2v2.2h-2.2zM483.32 137.76h2.2v2.2h-2.2zM483.32 142h2.2v2.2h-2.2zM483.32 146.24h2.2v2.2h-2.2zM483.32 150.48h2.2v2.2h-2.2zM483.32 154.72h2.2v2.2h-2.2zM483.32 158.96h2.2v2.2h-2.2zM483.32 163.2h2.2v2.2h-2.2zM483.32 167.44h2.2v2.2h-2.2zM483.32 171.68h2.2v2.2h-2.2zM483.32 175.92h2.2v2.2h-2.2zM483.32 180.16h2.2v2.2h-2.2zM483.32 184.4h2.2v2.2h-2.2zM483.32 188.64h2.2v2.2h-2.2zM483.32 192.88h2.2v2.2h-2.2zM483.32 197.12h2.2v2.2h-2.2zM483.32 201.36h2.2v2.2h-2.2zM483.32 205.6h2.2v2.2h-2.2zM483.32 209.84h2.2v2.2h-2.2zM483.32 214.08h2.2v2.2h-2.2zM483.32 218.32h2.2v2.2h-2.2zM483.32 222.56h2.2v2.2h-2.2zM483.32 226.8h2.2v2.2h-2.2zM483.32 231.04h2.2v2.2h-2.2zM483.32 235.28h2.2v2.2h-2.2zM483.32 239.52h2.2v2.2h-2.2zM483.32 243.76h2.2v2.2h-2.2zM483.32 248h2.2v2.2h-2.2zM483.32 252.24h2.2v2.2h-2.2zM483.32 256.48h2.2v2.2h-2.2zM483.32 260.72h2.2v2.2h-2.2zM483.32 264.96h2.2v2.2h-2.2zM487.56 89h2.2v2.2h-2.2zM487.56 93.24h2.2v2.2h-2.2zM487.56 97.48h2.2v2.2h-2.2zM487.56 101.72h2.2v2.2h-2.2zM487.56 105.96h2.2v2.2h-2.2zM487.56 110.2h2.2v2.2h-2.2zM487.56 114.44h2.2v2.2h-2.2zM487.56 118.68h2.2v2.2h-2.2zM487.56 122.92h2.2v2.2h-2.2zM487.56 127.16h2.2v2.2h-2.2zM487.56 131.4h2.2v2.2h-2.2zM487.56 135.64h2.2v2.2h-2.2zM487.56 139.88h2.2v2.2h-2.2zM487.56 144.12h2.2v2.2h-2.2zM487.56 148.36h2.2v2.2h-2.2zM487.56 152.6h2.2v2.2h-2.2zM487.56 156.84h2.2v2.2h-2.2zM487.56 161.08h2.2v2.2h-2.2zM487.56 165.32h2.2v2.2h-2.2zM487.56 169.56h2.2v2.2h-2.2zM487.56 173.8h2.2v2.2h-2.2zM487.56 178.04h2.2v2.2h-2.2zM487.56 182.28h2.2v2.2h-2.2zM487.56 186.52h2.2v2.2h-2.2zM487.56 190.76h2.2v2.2h-2.2zM487.56 195h2.2v2.2h-2.2zM487.56 199.24h2.2v2.2h-2.2zM487.56 203.48h2.2v2.2h-2.2zM487.56 207.72h2.2v2.2h-2.2zM487.56 211.96h2.2v2.2h-2.2zM487.56 216.2h2.2v2.2h-2.2zM487.56 220.44h2.2v2.2h-2.2zM487.56 224.68h2.2v2.2h-2.2zM487.56 228.92h2.2v2.2h-2.2zM487.56 233.16h2.2v2.2h-2.2zM487.56 237.4h2.2v2.2h-2.2zM487.56 241.64h2.2v2.2h-2.2zM487.56 245.88h2.2v2.2h-2.2zM487.56 250.12h2.2v2.2h-2.2zM487.56 254.36h2.2v2.2h-2.2zM487.56 258.6h2.2v2.2h-2.2zM487.56 262.84h2.2v2.2h-2.2z"/></g><rect x="463.93" y="91.58" width="25.72" height="174.82" fill="none" stroke="#000" stroke-width="1.35"/><g clip-path="url(#c31)"><rect x="495.36" y="88.9" width="27.74" height="177.5" fill="#000"/><path fill="#fff" d="M496.08 93.28h2.12v2.12h-2.12zM496.08 101.76h2.12v2.12h-2.12zM496.08 110.24h2.12v2.12h-2.12zM496.08 118.72h2.12v2.12h-2.12zM496.08 127.2h2.12v2.12h-2.12zM496.08 135.68h2.12v2.12h-2.12zM496.08 144.16h2.12v2.12h-2.12zM496.08 152.64h2.12v2.12h-2.12zM496.08 161.12h2.12v2.12h-2.12zM496.08 169.6h2.12v2.12h-2.12zM496.08 178.08h2.12v2.12h-2.12zM496.08 186.56h2.12v2.12h-2.12zM496.08 195.04h2.12v2.12h-2.12zM496.08 203.52h2.12v2.12h-2.12zM496.08 212h2.12v2.12h-2.12zM496.08 220.48h2.12v2.12h-2.12zM496.08 228.96h2.12v2.12h-2.12zM496.08 237.44h2.12v2.12h-2.12zM496.08 245.92h2.12v2.12h-2.12zM496.08 254.4h2.12v2.12h-2.12zM496.08 262.88h2.12v2.12h-2.12zM500.32 89.04h2.12v2.12h-2.12zM500.32 97.52h2.12v2.12h-2.12zM500.32 106h2.12v2.12h-2.12zM500.32 114.48h2.12v2.12h-2.12zM500.32 122.96h2.12v2.12h-2.12zM500.32 131.44h2.12v2.12h-2.12zM500.32 139.92h2.12v2.12h-2.12zM500.32 148.4h2.12v2.12h-2.12zM500.32 156.88h2.12v2.12h-2.12zM500.32 165.36h2.12v2.12h-2.12zM500.32 173.84h2.12v2.12h-2.12zM500.32 182.32h2.12v2.12h-2.12zM500.32 190.8h2.12v2.12h-2.12zM500.32 199.28h2.12v2.12h-2.12zM500.32 207.76h2.12v2.12h-2.12zM500.32 216.24h2.12v2.12h-2.12zM500.32 224.72h2.12v2.12h-2.12zM500.32 233.2h2.12v2.12h-2.12zM500.32 241.68h2.12v2.12h-2.12zM500.32 250.16h2.12v2.12h-2.12zM500.32 258.64h2.12v2.12h-2.12zM504.56 93.28h2.12v2.12h-2.12zM504.56 101.76h2.12v2.12h-2.12zM504.56 110.24h2.12v2.12h-2.12zM504.56 118.72h2.12v2.12h-2.12zM504.56 127.2h2.12v2.12h-2.12zM504.56 135.68h2.12v2.12h-2.12zM504.56 144.16h2.12v2.12h-2.12zM504.56 152.64h2.12v2.12h-2.12zM504.56 161.12h2.12v2.12h-2.12zM504.56 169.6h2.12v2.12h-2.12zM504.56 178.08h2.12v2.12h-2.12zM504.56 186.56h2.12v2.12h-2.12zM504.56 195.04h2.12v2.12h-2.12zM504.56 203.52h2.12v2.12h-2.12zM504.56 212h2.12v2.12h-2.12zM504.56 220.48h2.12v2.12h-2.12zM504.56 228.96h2.12v2.12h-2.12zM504.56 237.44h2.12v2.12h-2.12zM504.56 245.92h2.12v2.12h-2.12zM504.56 254.4h2.12v2.12h-2.12zM504.56 262.88h2.12v2.12h-2.12zM508.8 89.04h2.12v2.12h-2.12zM508.8 97.52h2.12v2.12h-2.12zM508.8 106h2.12v2.12h-2.12zM508.8 114.48h2.12v2.12h-2.12zM508.8 122.96h2.12v2.12h-2.12zM508.8 131.44h2.12v2.12h-2.12zM508.8 139.92h2.12v2.12h-2.12zM508.8 148.4h2.12v2.12h-2.12zM508.8 156.88h2.12v2.12h-2.12zM508.8 165.36h2.12v2.12h-2.12zM508.8 173.84h2.12v2.12h-2.12zM508.8 182.32h2.12v2.12h-2.12zM508.8 190.8h2.12v2.12h-2.12zM508.8 199.28h2.12v2.12h-2.12zM508.8 207.76h2.12v2.12h-2.12zM508.8 216.24h2.12v2.12h-2.12zM508.8 224.72h2.12v2.12h-2.12zM508.8 233.2h2.12v2.12h-2.12zM508.8 241.68h2.12v2.12h-2.12zM508.8 250.16h2.12v2.12h-2.12zM508.8 258.64h2.12v2.12h-2.12zM513.04 93.28h2.12v2.12h-2.12zM513.04 101.76h2.12v2.12h-2.12zM513.04 110.24h2.12v2.12h-2.12zM513.04 118.72h2.12v2.12h-2.12zM513.04 127.2h2.12v2.12h-2.12zM513.04 135.68h2.12v2.12h-2.12zM513.04 144.16h2.12v2.12h-2.12zM513.04 152.64h2.12v2.12h-2.12zM513.04 161.12h2.12v2.12h-2.12zM513.04 169.6h2.12v2.12h-2.12zM513.04 178.08h2.12v2.12h-2.12zM513.04 186.56h2.12v2.12h-2.12zM513.04 195.04h2.12v2.12h-2.12zM513.04 203.52h2.12v2.12h-2.12zM513.04 212h2.12v2.12h-2.12zM513.04 220.48h2.12v2.12h-2.12zM513.04 228.96h2.12v2.12h-2.12zM513.04 237.44h2.12v2.12h-2.12zM513.04 245.92h2.12v2.12h-2.12zM513.04 254.4h2.12v2.12h-2.12zM513.04 262.88h2.12v2.12h-2.12zM517.28 89.04h2.12v2.12h-2.12zM517.28 97.52h2.12v2.12h-2.12zM517.28 106h2.12v2.12h-2.12zM517.28 114.48h2.12v2.12h-2.12zM517.28 122.96h2.12v2.12h-2.12zM517.28 131.44h2.12v2.12h-2.12zM517.28 139.92h2.12v2.12h-2.12zM517.28 148.4h2.12v2.12h-2.12zM517.28 156.88h2.12v2.12h-2.12zM517.28 165.36h2.12v2.12h-2.12zM517.28 173.84h2.12v2.12h-2.12zM517.28 182.32h2.12v2.12h-2.12zM517.28 190.8h2.12v2.12h-2.12zM517.28 199.28h2.12v2.12h-2.12zM517.28 207.76h2.12v2.12h-2.12zM517.28 216.24h2.12v2.12h-2.12zM517.28 224.72h2.12v2.12h-2.12zM517.28 233.2h2.12v2.12h-2.12zM517.28 241.68h2.12v2.12h-2.12zM517.28 250.16h2.12v2.12h-2.12zM517.28 258.64h2.12v2.12h-2.12zM521.52 93.28h2.12v2.12h-2.12zM521.52 101.76h2.12v2.12h-2.12zM521.52 110.24h2.12v2.12h-2.12zM521.52 118.72h2.12v2.12h-2.12zM521.52 127.2h2.12v2.12h-2.12zM521.52 135.68h2.12v2.12h-2.12zM521.52 144.16h2.12v2.12h-2.12zM521.52 152.64h2.12v2.12h-2.12zM521.52 161.12h2.12v2.12h-2.12zM521.52 169.6h2.12v2.12h-2.12zM521.52 178.08h2.12v2.12h-2.12zM521.52 186.56h2.12v2.12h-2.12zM521.52 195.04h2.12v2.12h-2.12zM521.52 203.52h2.12v2.12h-2.12zM521.52 212h2.12v2.12h-2.12zM521.52 220.48h2.12v2.12h-2.12zM521.52 228.96h2.12v2.12h-2.12zM521.52 237.44h2.12v2.12h-2.12zM521.52 245.92h2.12v2.12h-2.12zM521.52 254.4h2.12v2.12h-2.12zM521.52 262.88h2.12v2.12h-2.12z"/></g><rect x="496.03" y="89.58" width="26.39" height="176.82" fill="none" stroke="#000" stroke-width="1.35"/><g clip-path="url(#c32)"><rect x="528.34" y="95.8" width="26.96" height="170.6" fill="#fff"/><path fill="#000" d="M527.84 95.36h2.2v2.2h-2.2zM527.84 112.32h2.2v2.2h-2.2zM527.84 129.28h2.2v2.2h-2.2zM527.84 146.24h2.2v2.2h-2.2zM527.84 163.2h2.2v2.2h-2.2zM527.84 180.16h2.2v2.2h-2.2zM527.84 197.12h2.2v2.2h-2.2zM527.84 214.08h2.2v2.2h-2.2zM527.84 231.04h2.2v2.2h-2.2zM527.84 248h2.2v2.2h-2.2zM527.84 264.96h2.2v2.2h-2.2zM529.96 101.72h2.2v2.2h-2.2zM529.96 118.68h2.2v2.2h-2.2zM529.96 135.64h2.2v2.2h-2.2zM529.96 152.6h2.2v2.2h-2.2zM529.96 169.56h2.2v2.2h-2.2zM529.96 186.52h2.2v2.2h-2.2zM529.96 203.48h2.2v2.2h-2.2zM529.96 220.44h2.2v2.2h-2.2zM529.96 237.4h2.2v2.2h-2.2zM529.96 254.36h2.2v2.2h-2.2zM532.08 105.96h2.2v2.2h-2.2zM532.08 122.92h2.2v2.2h-2.2zM532.08 139.88h2.2v2.2h-2.2zM532.08 156.84h2.2v2.2h-2.2zM532.08 173.8h2.2v2.2h-2.2zM532.08 190.76h2.2v2.2h-2.2zM532.08 207.72h2.2v2.2h-2.2zM532.08 224.68h2.2v2.2h-2.2zM532.08 241.64h2.2v2.2h-2.2zM532.08 258.6h2.2v2.2h-2.2zM534.2 97.48h2.2v2.2h-2.2zM534.2 114.44h2.2v2.2h-2.2zM534.2 131.4h2.2v2.2h-2.2zM534.2 148.36h2.2v2.2h-2.2zM534.2 165.32h2.2v2.2h-2.2zM534.2 182.28h2.2v2.2h-2.2zM534.2 199.24h2.2v2.2h-2.2zM534.2 216.2h2.2v2.2h-2.2zM534.2 233.16h2.2v2.2h-2.2zM534.2 250.12h2.2v2.2h-2.2zM536.32 110.2h2.2v2.2h-2.2zM536.32 127.16h2.2v2.2h-2.2zM536.32 144.12h2.2v2.2h-2.2zM536.32 161.08h2.2v2.2h-2.2zM536.32 178.04h2.2v2.2h-2.2zM536.32 195h2.2v2.2h-2.2zM536.32 211.96h2.2v2.2h-2.2zM536.32 228.92h2.2v2.2h-2.2zM536.32 245.88h2.2v2.2h-2.2zM536.32 262.84h2.2v2.2h-2.2zM538.44 103.84h2.2v2.2h-2.2zM538.44 120.8h2.2v2.2h-2.2zM538.44 137.76h2.2v2.2h-2.2zM538.44 154.72h2.2v2.2h-2.2zM538.44 171.68h2.2v2.2h-2.2zM538.44 188.64h2.2v2.2h-2.2zM538.44 205.6h2.2v2.2h-2.2zM538.44 222.56h2.2v2.2h-2.2zM538.44 239.52h2.2v2.2h-2.2zM538.44 256.48h2.2v2.2h-2.2zM540.56 99.6h2.2v2.2h-2.2zM540.56 116.56h2.2v2.2h-2.2zM540.56 133.52h2.2v2.2h-2.2zM540.56 150.48h2.2v2.2h-2.2zM540.56 167.44h2.2v2.2h-2.2zM540.56 184.4h2.2v2.2h-2.2zM540.56 201.36h2.2v2.2h-2.2zM540.56 218.32h2.2v2.2h-2.2zM540.56 235.28h2.2v2.2h-2.2zM540.56 252.24h2.2v2.2h-2.2zM542.68 108.08h2.2v2.2h-2.2zM542.68 125.04h2.2v2.2h-2.2zM542.68 142h2.2v2.2h-2.2zM542.68 158.96h2.2v2.2h-2.2zM542.68 175.92h2.2v2.2h-2.2zM542.68 192.88h2.2v2.2h-2.2zM542.68 209.84h2.2v2.2h-2.2zM542.68 226.8h2.2v2.2h-2.2zM542.68 243.76h2.2v2.2h-2.2zM542.68 260.72h2.2v2.2h-2.2zM544.8 95.36h2.2v2.2h-2.2zM544.8 112.32h2.2v2.2h-2.2zM544.8 129.28h2.2v2.2h-2.2zM544.8 146.24h2.2v2.2h-2.2zM544.8 163.2h2.2v2.2h-2.2zM544.8 180.16h2.2v2.2h-2.2zM544.8 197.12h2.2v2.2h-2.2zM544.8 214.08h2.2v2.2h-2.2zM544.8 231.04h2.2v2.2h-2.2zM544.8 248h2.2v2.2h-2.2zM544.8 264.96h2.2v2.2h-2.2zM546.92 101.72h2.2v2.2h-2.2zM546.92 118.68h2.2v2.2h-2.2zM546.92 135.64h2.2v2.2h-2.2zM546.92 152.6h2.2v2.2h-2.2zM546.92 169.56h2.2v2.2h-2.2zM546.92 186.52h2.2v2.2h-2.2zM546.92 203.48h2.2v2.2h-2.2zM546.92 220.44h2.2v2.2h-2.2zM546.92 237.4h2.2v2.2h-2.2zM546.92 254.36h2.2v2.2h-2.2zM549.04 105.96h2.2v2.2h-2.2zM549.04 122.92h2.2v2.2h-2.2zM549.04 139.88h2.2v2.2h-2.2zM549.04 156.84h2.2v2.2h-2.2zM549.04 173.8h2.2v2.2h-2.2zM549.04 190.76h2.2v2.2h-2.2zM549.04 207.72h2.2v2.2h-2.2zM549.04 224.68h2.2v2.2h-2.2zM549.04 241.64h2.2v2.2h-2.2zM549.04 258.6h2.2v2.2h-2.2zM551.16 97.48h2.2v2.2h-2.2zM551.16 114.44h2.2v2.2h-2.2zM551.16 131.4h2.2v2.2h-2.2zM551.16 148.36h2.2v2.2h-2.2zM551.16 165.32h2.2v2.2h-2.2zM551.16 182.28h2.2v2.2h-2.2zM551.16 199.24h2.2v2.2h-2.2zM551.16 216.2h2.2v2.2h-2.2zM551.16 233.16h2.2v2.2h-2.2zM551.16 250.12h2.2v2.2h-2.2zM553.28 110.2h2.2v2.2h-2.2zM553.28 127.16h2.2v2.2h-2.2zM553.28 144.12h2.2v2.2h-2.2zM553.28 161.08h2.2v2.2h-2.2zM553.28 178.04h2.2v2.2h-2.2zM553.28 195h2.2v2.2h-2.2zM553.28 211.96h2.2v2.2h-2.2zM553.28 228.92h2.2v2.2h-2.2zM553.28 245.88h2.2v2.2h-2.2zM553.28 262.84h2.2v2.2h-2.2z"/></g><rect x="529.01" y="96.47" width="25.61" height="169.92" fill="none" stroke="#000" stroke-width="1.35"/><g clip-path="url(#c40)"><rect x="580.33" y="103" width="27.07" height="163.4" fill="#fff"/><path fill="#000" d="M580.84 101.72h2.2v2.2h-2.2zM580.84 105.96h2.2v2.2h-2.2zM580.84 110.2h2.2v2.2h-2.2zM580.84 114.44h2.2v2.2h-2.2zM580.84 118.68h2.2v2.2h-2.2zM580.84 122.92h2.2v2.2h-2.2zM580.84 127.16h2.2v2.2h-2.2zM580.84 131.4h2.2v2.2h-2.2zM580.84 135.64h2.2v2.2h-2.2zM580.84 139.88h2.2v2.2h-2.2zM580.84 144.12h2.2v2.2h-2.2zM580.84 148.36h2.2v2.2h-2.2zM580.84 152.6h2.2v2.2h-2.2zM580.84 156.84h2.2v2.2h-2.2zM580.84 161.08h2.2v2.2h-2.2zM580.84 165.32h2.2v2.2h-2.2zM580.84 169.56h2.2v2.2h-2.2zM580.84 173.8h2.2v2.2h-2.2zM580.84 178.04h2.2v2.2h-2.2zM580.84 182.28h2.2v2.2h-2.2zM580.84 186.52h2.2v2.2h-2.2zM580.84 190.76h2.2v2.2h-2.2zM580.84 195h2.2v2.2h-2.2zM580.84 199.24h2.2v2.2h-2.2zM580.84 203.48h2.2v2.2h-2.2zM580.84 207.72h2.2v2.2h-2.2zM580.84 211.96h2.2v2.2h-2.2zM580.84 216.2h2.2v2.2h-2.2zM580.84 220.44h2.2v2.2h-2.2zM580.84 224.68h2.2v2.2h-2.2zM580.84 228.92h2.2v2.2h-2.2zM580.84 233.16h2.2v2.2h-2.2zM580.84 237.4h2.2v2.2h-2.2zM580.84 241.64h2.2v2.2h-2.2zM580.84 245.88h2.2v2.2h-2.2zM580.84 250.12h2.2v2.2h-2.2zM580.84 254.36h2.2v2.2h-2.2zM580.84 258.6h2.2v2.2h-2.2zM580.84 262.84h2.2v2.2h-2.2zM585.08 103.84h2.2v2.2h-2.2zM585.08 108.08h2.2v2.2h-2.2zM585.08 112.32h2.2v2.2h-2.2zM585.08 116.56h2.2v2.2h-2.2zM585.08 120.8h2.2v2.2h-2.2zM585.08 125.04h2.2v2.2h-2.2zM585.08 129.28h2.2v2.2h-2.2zM585.08 133.52h2.2v2.2h-2.2zM585.08 137.76h2.2v2.2h-2.2zM585.08 142h2.2v2.2h-2.2zM585.08 146.24h2.2v2.2h-2.2zM585.08 150.48h2.2v2.2h-2.2zM585.08 154.72h2.2v2.2h-2.2zM585.08 158.96h2.2v2.2h-2.2zM585.08 163.2h2.2v2.2h-2.2zM585.08 167.44h2.2v2.2h-2.2zM585.08 171.68h2.2v2.2h-2.2zM585.08 175.92h2.2v2.2h-2.2zM585.08 180.16h2.2v2.2h-2.2zM585.08 184.4h2.2v2.2h-2.2zM585.08 188.64h2.2v2.2h-2.2zM585.08 192.88h2.2v2.2h-2.2zM585.08 197.12h2.2v2.2h-2.2zM585.08 201.36h2.2v2.2h-2.2zM585.08 205.6h2.2v2.2h-2.2zM585.08 209.84h2.2v2.2h-2.2zM585.08 214.08h2.2v2.2h-2.2zM585.08 218.32h2.2v2.2h-2.2zM585.08 222.56h2.2v2.2h-2.2zM585.08 226.8h2.2v2.2h-2.2zM585.08 231.04h2.2v2.2h-2.2zM585.08 235.28h2.2v2.2h-2.2zM585.08 239.52h2.2v2.2h-2.2zM585.08 243.76h2.2v2.2h-2.2zM585.08 248h2.2v2.2h-2.2zM585.08 252.24h2.2v2.2h-2.2zM585.08 256.48h2.2v2.2h-2.2zM585.08 260.72h2.2v2.2h-2.2zM585.08 264.96h2.2v2.2h-2.2zM589.32 101.72h2.2v2.2h-2.2zM589.32 105.96h2.2v2.2h-2.2zM589.32 110.2h2.2v2.2h-2.2zM589.32 114.44h2.2v2.2h-2.2zM589.32 118.68h2.2v2.2h-2.2zM589.32 122.92h2.2v2.2h-2.2zM589.32 127.16h2.2v2.2h-2.2zM589.32 131.4h2.2v2.2h-2.2zM589.32 135.64h2.2v2.2h-2.2zM589.32 139.88h2.2v2.2h-2.2zM589.32 144.12h2.2v2.2h-2.2zM589.32 148.36h2.2v2.2h-2.2zM589.32 152.6h2.2v2.2h-2.2zM589.32 156.84h2.2v2.2h-2.2zM589.32 161.08h2.2v2.2h-2.2zM589.32 165.32h2.2v2.2h-2.2zM589.32 169.56h2.2v2.2h-2.2zM589.32 173.8h2.2v2.2h-2.2zM589.32 178.04h2.2v2.2h-2.2zM589.32 182.28h2.2v2.2h-2.2zM589.32 186.52h2.2v2.2h-2.2zM589.32 190.76h2.2v2.2h-2.2zM589.32 195h2.2v2.2h-2.2zM589.32 199.24h2.2v2.2h-2.2zM589.32 203.48h2.2v2.2h-2.2zM589.32 207.72h2.2v2.2h-2.2zM589.32 211.96h2.2v2.2h-2.2zM589.32 216.2h2.2v2.2h-2.2zM589.32 220.44h2.2v2.2h-2.2zM589.32 224.68h2.2v2.2h-2.2zM589.32 228.92h2.2v2.2h-2.2zM589.32 233.16h2.2v2.2h-2.2zM589.32 237.4h2.2v2.2h-2.2zM589.32 241.64h2.2v2.2h-2.2zM589.32 245.88h2.2v2.2h-2.2zM589.32 250.12h2.2v2.2h-2.2zM589.32 254.36h2.2v2.2h-2.2zM589.32 258.6h2.2v2.2h-2.2zM589.32 262.84h2.2v2.2h-2.2zM593.56 103.84h2.2v2.2h-2.2zM593.56 108.08h2.2v2.2h-2.2zM593.56 112.32h2.2v2.2h-2.2zM593.56 116.56h2.2v2.2h-2.2zM593.56 120.8h2.2v2.2h-2.2zM593.56 125.04h2.2v2.2h-2.2zM593.56 129.28h2.2v2.2h-2.2zM593.56 133.52h2.2v2.2h-2.2zM593.56 137.76h2.2v2.2h-2.2zM593.56 142h2.2v2.2h-2.2zM593.56 146.24h2.2v2.2h-2.2zM593.56 150.48h2.2v2.2h-2.2zM593.56 154.72h2.2v2.2h-2.2zM593.56 158.96h2.2v2.2h-2.2zM593.56 163.2h2.2v2.2h-2.2zM593.56 167.44h2.2v2.2h-2.2zM593.56 171.68h2.2v2.2h-2.2zM593.56 175.92h2.2v2.2h-2.2zM593.56 180.16h2.2v2.2h-2.2zM593.56 184.4h2.2v2.2h-2.2zM593.56 188.64h2.2v2.2h-2.2zM593.56 192.88h2.2v2.2h-2.2zM593.56 197.12h2.2v2.2h-2.2zM593.56 201.36h2.2v2.2h-2.2zM593.56 205.6h2.2v2.2h-2.2zM593.56 209.84h2.2v2.2h-2.2zM593.56 214.08h2.2v2.2h-2.2zM593.56 218.32h2.2v2.2h-2.2zM593.56 222.56h2.2v2.2h-2.2zM593.56 226.8h2.2v2.2h-2.2zM593.56 231.04h2.2v2.2h-2.2zM593.56 235.28h2.2v2.2h-2.2zM593.56 239.52h2.2v2.2h-2.2zM593.56 243.76h2.2v2.2h-2.2zM593.56 248h2.2v2.2h-2.2zM593.56 252.24h2.2v2.2h-2.2zM593.56 256.48h2.2v2.2h-2.2zM593.56 260.72h2.2v2.2h-2.2zM593.56 264.96h2.2v2.2h-2.2zM597.8 101.72h2.2v2.2h-2.2zM597.8 105.96h2.2v2.2h-2.2zM597.8 110.2h2.2v2.2h-2.2zM597.8 114.44h2.2v2.2h-2.2zM597.8 118.68h2.2v2.2h-2.2zM597.8 122.92h2.2v2.2h-2.2zM597.8 127.16h2.2v2.2h-2.2zM597.8 131.4h2.2v2.2h-2.2zM597.8 135.64h2.2v2.2h-2.2zM597.8 139.88h2.2v2.2h-2.2zM597.8 144.12h2.2v2.2h-2.2zM597.8 148.36h2.2v2.2h-2.2zM597.8 152.6h2.2v2.2h-2.2zM597.8 156.84h2.2v2.2h-2.2zM597.8 161.08h2.2v2.2h-2.2zM597.8 165.32h2.2v2.2h-2.2zM597.8 169.56h2.2v2.2h-2.2zM597.8 173.8h2.2v2.2h-2.2zM597.8 178.04h2.2v2.2h-2.2zM597.8 182.28h2.2v2.2h-2.2zM597.8 186.52h2.2v2.2h-2.2zM597.8 190.76h2.2v2.2h-2.2zM597.8 195h2.2v2.2h-2.2zM597.8 199.24h2.2v2.2h-2.2zM597.8 203.48h2.2v2.2h-2.2zM597.8 207.72h2.2v2.2h-2.2zM597.8 211.96h2.2v2.2h-2.2zM597.8 216.2h2.2v2.2h-2.2zM597.8 220.44h2.2v2.2h-2.2zM597.8 224.68h2.2v2.2h-2.2zM597.8 228.92h2.2v2.2h-2.2zM597.8 233.16h2.2v2.2h-2.2zM597.8 237.4h2.2v2.2h-2.2zM597.8 241.64h2.2v2.2h-2.2zM597.8 245.88h2.2v2.2h-2.2zM597.8 250.12h2.2v2.2h-2.2zM597.8 254.36h2.2v2.2h-2.2zM597.8 258.6h2.2v2.2h-2.2zM597.8 262.84h2.2v2.2h-2.2zM602.04 103.84h2.2v2.2h-2.2zM602.04 108.08h2.2v2.2h-2.2zM602.04 112.32h2.2v2.2h-2.2zM602.04 116.56h2.2v2.2h-2.2zM602.04 120.8h2.2v2.2h-2.2zM602.04 125.04h2.2v2.2h-2.2zM602.04 129.28h2.2v2.2h-2.2zM602.04 133.52h2.2v2.2h-2.2zM602.04 137.76h2.2v2.2h-2.2zM602.04 142h2.2v2.2h-2.2zM602.04 146.24h2.2v2.2h-2.2zM602.04 150.48h2.2v2.2h-2.2zM602.04 154.72h2.2v2.2h-2.2zM602.04 158.96h2.2v2.2h-2.2zM602.04 163.2h2.2v2.2h-2.2zM602.04 167.44h2.2v2.2h-2.2zM602.04 171.68h2.2v2.2h-2.2zM602.04 175.92h2.2v2.2h-2.2zM602.04 180.16h2.2v2.2h-2.2zM602.04 184.4h2.2v2.2h-2.2zM602.04 188.64h2.2v2.2h-2.2zM602.04 192.88h2.2v2.2h-2.2zM602.04 197.12h2.2v2.2h-2.2zM602.04 201.36h2.2v2.2h-2.2zM602.04 205.6h2.2v2.2h-2.2zM602.04 209.84h2.2v2.2h-2.2zM602.04 214.08h2.2v2.2h-2.2zM602.04 218.32h2.2v2.2h-2.2zM602.04 222.56h2.2v2.2h-2.2zM602.04 226.8h2.2v2.2h-2.2zM602.04 231.04h2.2v2.2h-2.2zM602.04 235.28h2.2v2.2h-2.2zM602.04 239.52h2.2v2.2h-2.2zM602.04 243.76h2.2v2.2h-2.2zM602.04 248h2.2v2.2h-2.2zM602.04 252.24h2.2v2.2h-2.2zM602.04 256.48h2.2v2.2h-2.2zM602.04 260.72h2.2v2.2h-2.2zM602.04 264.96h2.2v2.2h-2.2zM606.28 101.72h2.2v2.2h-2.2zM606.28 105.96h2.2v2.2h-2.2zM606.28 110.2h2.2v2.2h-2.2zM606.28 114.44h2.2v2.2h-2.2zM606.28 118.68h2.2v2.2h-2.2zM606.28 122.92h2.2v2.2h-2.2zM606.28 127.16h2.2v2.2h-2.2zM606.28 131.4h2.2v2.2h-2.2zM606.28 135.64h2.2v2.2h-2.2zM606.28 139.88h2.2v2.2h-2.2zM606.28 144.12h2.2v2.2h-2.2zM606.28 148.36h2.2v2.2h-2.2zM606.28 152.6h2.2v2.2h-2.2zM606.28 156.84h2.2v2.2h-2.2zM606.28 161.08h2.2v2.2h-2.2zM606.28 165.32h2.2v2.2h-2.2zM606.28 169.56h2.2v2.2h-2.2zM606.28 173.8h2.2v2.2h-2.2zM606.28 178.04h2.2v2.2h-2.2zM606.28 182.28h2.2v2.2h-2.2zM606.28 186.52h2.2v2.2h-2.2zM606.28 190.76h2.2v2.2h-2.2zM606.28 195h2.2v2.2h-2.2zM606.28 199.24h2.2v2.2h-2.2zM606.28 203.48h2.2v2.2h-2.2zM606.28 207.72h2.2v2.2h-2.2zM606.28 211.96h2.2v2.2h-2.2zM606.28 216.2h2.2v2.2h-2.2zM606.28 220.44h2.2v2.2h-2.2zM606.28 224.68h2.2v2.2h-2.2zM606.28 228.92h2.2v2.2h-2.2zM606.28 233.16h2.2v2.2h-2.2zM606.28 237.4h2.2v2.2h-2.2zM606.28 241.64h2.2v2.2h-2.2zM606.28 245.88h2.2v2.2h-2.2zM606.28 250.12h2.2v2.2h-2.2zM606.28 254.36h2.2v2.2h-2.2zM606.28 258.6h2.2v2.2h-2.2zM606.28 262.84h2.2v2.2h-2.2z"/></g><rect x="581" y="103.67" width="25.72" height="162.72" fill="none" stroke="#000" stroke-width="1.35"/><g clip-path="url(#c41)"><rect x="612.43" y="92.3" width="27.74" height="174.1" fill="#000"/><path fill="#fff" d="M610.56 97.52h2.12v2.12h-2.12zM610.56 106h2.12v2.12h-2.12zM610.56 114.48h2.12v2.12h-2.12zM610.56 122.96h2.12v2.12h-2.12zM610.56 131.44h2.12v2.12h-2.12zM610.56 139.92h2.12v2.12h-2.12zM610.56 148.4h2.12v2.12h-2.12zM610.56 156.88h2.12v2.12h-2.12zM610.56 165.36h2.12v2.12h-2.12zM610.56 173.84h2.12v2.12h-2.12zM610.56 182.32h2.12v2.12h-2.12zM610.56 190.8h2.12v2.12h-2.12zM610.56 199.28h2.12v2.12h-2.12zM610.56 207.76h2.12v2.12h-2.12zM610.56 216.24h2.12v2.12h-2.12zM610.56 224.72h2.12v2.12h-2.12zM610.56 233.2h2.12v2.12h-2.12zM610.56 241.68h2.12v2.12h-2.12zM610.56 250.16h2.12v2.12h-2.12zM610.56 258.64h2.12v2.12h-2.12zM614.8 93.28h2.12v2.12h-2.12zM614.8 101.76h2.12v2.12h-2.12zM614.8 110.24h2.12v2.12h-2.12zM614.8 118.72h2.12v2.12h-2.12zM614.8 127.2h2.12v2.12h-2.12zM614.8 135.68h2.12v2.12h-2.12zM614.8 144.16h2.12v2.12h-2.12zM614.8 152.64h2.12v2.12h-2.12zM614.8 161.12h2.12v2.12h-2.12zM614.8 169.6h2.12v2.12h-2.12zM614.8 178.08h2.12v2.12h-2.12zM614.8 186.56h2.12v2.12h-2.12zM614.8 195.04h2.12v2.12h-2.12zM614.8 203.52h2.12v2.12h-2.12zM614.8 212h2.12v2.12h-2.12zM614.8 220.48h2.12v2.12h-2.12zM614.8 228.96h2.12v2.12h-2.12zM614.8 237.44h2.12v2.12h-2.12zM614.8 245.92h2.12v2.12h-2.12zM614.8 254.4h2.12v2.12h-2.12zM614.8 262.88h2.12v2.12h-2.12zM619.04 97.52h2.12v2.12h-2.12zM619.04 106h2.12v2.12h-2.12zM619.04 114.48h2.12v2.12h-2.12zM619.04 122.96h2.12v2.12h-2.12zM619.04 131.44h2.12v2.12h-2.12zM619.04 139.92h2.12v2.12h-2.12zM619.04 148.4h2.12v2.12h-2.12zM619.04 156.88h2.12v2.12h-2.12zM619.04 165.36h2.12v2.12h-2.12zM619.04 173.84h2.12v2.12h-2.12zM619.04 182.32h2.12v2.12h-2.12zM619.04 190.8h2.12v2.12h-2.12zM619.04 199.28h2.12v2.12h-2.12zM619.04 207.76h2.12v2.12h-2.12zM619.04 216.24h2.12v2.12h-2.12zM619.04 224.72h2.12v2.12h-2.12zM619.04 233.2h2.12v2.12h-2.12zM619.04 241.68h2.12v2.12h-2.12zM619.04 250.16h2.12v2.12h-2.12zM619.04 258.64h2.12v2.12h-2.12zM623.28 93.28h2.12v2.12h-2.12zM623.28 101.76h2.12v2.12h-2.12zM623.28 110.24h2.12v2.12h-2.12zM623.28 118.72h2.12v2.12h-2.12zM623.28 127.2h2.12v2.12h-2.12zM623.28 135.68h2.12v2.12h-2.12zM623.28 144.16h2.12v2.12h-2.12zM623.28 152.64h2.12v2.12h-2.12zM623.28 161.12h2.12v2.12h-2.12zM623.28 169.6h2.12v2.12h-2.12zM623.28 178.08h2.12v2.12h-2.12zM623.28 186.56h2.12v2.12h-2.12zM623.28 195.04h2.12v2.12h-2.12zM623.28 203.52h2.12v2.12h-2.12zM623.28 212h2.12v2.12h-2.12zM623.28 220.48h2.12v2.12h-2.12zM623.28 228.96h2.12v2.12h-2.12zM623.28 237.44h2.12v2.12h-2.12zM623.28 245.92h2.12v2.12h-2.12zM623.28 254.4h2.12v2.12h-2.12zM623.28 262.88h2.12v2.12h-2.12zM627.52 97.52h2.12v2.12h-2.12zM627.52 106h2.12v2.12h-2.12zM627.52 114.48h2.12v2.12h-2.12zM627.52 122.96h2.12v2.12h-2.12zM627.52 131.44h2.12v2.12h-2.12zM627.52 139.92h2.12v2.12h-2.12zM627.52 148.4h2.12v2.12h-2.12zM627.52 156.88h2.12v2.12h-2.12zM627.52 165.36h2.12v2.12h-2.12zM627.52 173.84h2.12v2.12h-2.12zM627.52 182.32h2.12v2.12h-2.12zM627.52 190.8h2.12v2.12h-2.12zM627.52 199.28h2.12v2.12h-2.12zM627.52 207.76h2.12v2.12h-2.12zM627.52 216.24h2.12v2.12h-2.12zM627.52 224.72h2.12v2.12h-2.12zM627.52 233.2h2.12v2.12h-2.12zM627.52 241.68h2.12v2.12h-2.12zM627.52 250.16h2.12v2.12h-2.12zM627.52 258.64h2.12v2.12h-2.12zM631.76 93.28h2.12v2.12h-2.12zM631.76 101.76h2.12v2.12h-2.12zM631.76 110.24h2.12v2.12h-2.12zM631.76 118.72h2.12v2.12h-2.12zM631.76 127.2h2.12v2.12h-2.12zM631.76 135.68h2.12v2.12h-2.12zM631.76 144.16h2.12v2.12h-2.12zM631.76 152.64h2.12v2.12h-2.12zM631.76 161.12h2.12v2.12h-2.12zM631.76 169.6h2.12v2.12h-2.12zM631.76 178.08h2.12v2.12h-2.12zM631.76 186.56h2.12v2.12h-2.12zM631.76 195.04h2.12v2.12h-2.12zM631.76 203.52h2.12v2.12h-2.12zM631.76 212h2.12v2.12h-2.12zM631.76 220.48h2.12v2.12h-2.12zM631.76 228.96h2.12v2.12h-2.12zM631.76 237.44h2.12v2.12h-2.12zM631.76 245.92h2.12v2.12h-2.12zM631.76 254.4h2.12v2.12h-2.12zM631.76 262.88h2.12v2.12h-2.12zM636 97.52h2.12v2.12h-2.12zM636 106h2.12v2.12h-2.12zM636 114.48h2.12v2.12h-2.12zM636 122.96h2.12v2.12h-2.12zM636 131.44h2.12v2.12h-2.12zM636 139.92h2.12v2.12h-2.12zM636 148.4h2.12v2.12h-2.12zM636 156.88h2.12v2.12h-2.12zM636 165.36h2.12v2.12h-2.12zM636 173.84h2.12v2.12h-2.12zM636 182.32h2.12v2.12h-2.12zM636 190.8h2.12v2.12h-2.12zM636 199.28h2.12v2.12h-2.12zM636 207.76h2.12v2.12h-2.12zM636 216.24h2.12v2.12h-2.12zM636 224.72h2.12v2.12h-2.12zM636 233.2h2.12v2.12h-2.12zM636 241.68h2.12v2.12h-2.12zM636 250.16h2.12v2.12h-2.12zM636 258.64h2.12v2.12h-2.12z"/></g><rect x="613.11" y="92.97" width="26.39" height="173.42" fill="none" stroke="#000" stroke-width="1.35"/><g clip-path="url(#c42)"><rect x="645.41" y="99.3" width="26.96" height="167.1" fill="#fff"/><path fill="#000" d="M644.44 108.08h2.2v2.2h-2.2zM644.44 125.04h2.2v2.2h-2.2zM644.44 142h2.2v2.2h-2.2zM644.44 158.96h2.2v2.2h-2.2zM644.44 175.92h2.2v2.2h-2.2zM644.44 192.88h2.2v2.2h-2.2zM644.44 209.84h2.2v2.2h-2.2zM644.44 226.8h2.2v2.2h-2.2zM644.44 243.76h2.2v2.2h-2.2zM644.44 260.72h2.2v2.2h-2.2zM646.56 112.32h2.2v2.2h-2.2zM646.56 129.28h2.2v2.2h-2.2zM646.56 146.24h2.2v2.2h-2.2zM646.56 163.2h2.2v2.2h-2.2zM646.56 180.16h2.2v2.2h-2.2zM646.56 197.12h2.2v2.2h-2.2zM646.56 214.08h2.2v2.2h-2.2zM646.56 231.04h2.2v2.2h-2.2zM646.56 248h2.2v2.2h-2.2zM646.56 264.96h2.2v2.2h-2.2zM648.68 101.72h2.2v2.2h-2.2zM648.68 118.68h2.2v2.2h-2.2zM648.68 135.64h2.2v2.2h-2.2zM648.68 152.6h2.2v2.2h-2.2zM648.68 169.56h2.2v2.2h-2.2zM648.68 186.52h2.2v2.2h-2.2zM648.68 203.48h2.2v2.2h-2.2zM648.68 220.44h2.2v2.2h-2.2zM648.68 237.4h2.2v2.2h-2.2zM648.68 254.36h2.2v2.2h-2.2zM650.8 105.96h2.2v2.2h-2.2zM650.8 122.92h2.2v2.2h-2.2zM650.8 139.88h2.2v2.2h-2.2zM650.8 156.84h2.2v2.2h-2.2zM650.8 173.8h2.2v2.2h-2.2zM650.8 190.76h2.2v2.2h-2.2zM650.8 207.72h2.2v2.2h-2.2zM650.8 224.68h2.2v2.2h-2.2zM650.8 241.64h2.2v2.2h-2.2zM650.8 258.6h2.2v2.2h-2.2zM652.92 97.48h2.2v2.2h-2.2zM652.92 114.44h2.2v2.2h-2.2zM652.92 131.4h2.2v2.2h-2.2zM652.92 148.36h2.2v2.2h-2.2zM652.92 165.32h2.2v2.2h-2.2zM652.92 182.28h2.2v2.2h-2.2zM652.92 199.24h2.2v2.2h-2.2zM652.92 216.2h2.2v2.2h-2.2zM652.92 233.16h2.2v2.2h-2.2zM652.92 250.12h2.2v2.2h-2.2zM655.04 110.2h2.2v2.2h-2.2zM655.04 127.16h2.2v2.2h-2.2zM655.04 144.12h2.2v2.2h-2.2zM655.04 161.08h2.2v2.2h-2.2zM655.04 178.04h2.2v2.2h-2.2zM655.04 195h2.2v2.2h-2.2zM655.04 211.96h2.2v2.2h-2.2zM655.04 228.92h2.2v2.2h-2.2zM655.04 245.88h2.2v2.2h-2.2zM655.04 262.84h2.2v2.2h-2.2zM657.16 103.84h2.2v2.2h-2.2zM657.16 120.8h2.2v2.2h-2.2zM657.16 137.76h2.2v2.2h-2.2zM657.16 154.72h2.2v2.2h-2.2zM657.16 171.68h2.2v2.2h-2.2zM657.16 188.64h2.2v2.2h-2.2zM657.16 205.6h2.2v2.2h-2.2zM657.16 222.56h2.2v2.2h-2.2zM657.16 239.52h2.2v2.2h-2.2zM657.16 256.48h2.2v2.2h-2.2zM659.28 99.6h2.2v2.2h-2.2zM659.28 116.56h2.2v2.2h-2.2zM659.28 133.52h2.2v2.2h-2.2zM659.28 150.48h2.2v2.2h-2.2zM659.28 167.44h2.2v2.2h-2.2zM659.28 184.4h2.2v2.2h-2.2zM659.28 201.36h2.2v2.2h-2.2zM659.28 218.32h2.2v2.2h-2.2zM659.28 235.28h2.2v2.2h-2.2zM659.28 252.24h2.2v2.2h-2.2zM661.4 108.08h2.2v2.2h-2.2zM661.4 125.04h2.2v2.2h-2.2zM661.4 142h2.2v2.2h-2.2zM661.4 158.96h2.2v2.2h-2.2zM661.4 175.92h2.2v2.2h-2.2zM661.4 192.88h2.2v2.2h-2.2zM661.4 209.84h2.2v2.2h-2.2zM661.4 226.8h2.2v2.2h-2.2zM661.4 243.76h2.2v2.2h-2.2zM661.4 260.72h2.2v2.2h-2.2zM663.52 112.32h2.2v2.2h-2.2zM663.52 129.28h2.2v2.2h-2.2zM663.52 146.24h2.2v2.2h-2.2zM663.52 163.2h2.2v2.2h-2.2zM663.52 180.16h2.2v2.2h-2.2zM663.52 197.12h2.2v2.2h-2.2zM663.52 214.08h2.2v2.2h-2.2zM663.52 231.04h2.2v2.2h-2.2zM663.52 248h2.2v2.2h-2.2zM663.52 264.96h2.2v2.2h-2.2zM665.64 101.72h2.2v2.2h-2.2zM665.64 118.68h2.2v2.2h-2.2zM665.64 135.64h2.2v2.2h-2.2zM665.64 152.6h2.2v2.2h-2.2zM665.64 169.56h2.2v2.2h-2.2zM665.64 186.52h2.2v2.2h-2.2zM665.64 203.48h2.2v2.2h-2.2zM665.64 220.44h2.2v2.2h-2.2zM665.64 237.4h2.2v2.2h-2.2zM665.64 254.36h2.2v2.2h-2.2zM667.76 105.96h2.2v2.2h-2.2zM667.76 122.92h2.2v2.2h-2.2zM667.76 139.88h2.2v2.2h-2.2zM667.76 156.84h2.2v2.2h-2.2zM667.76 173.8h2.2v2.2h-2.2zM667.76 190.76h2.2v2.2h-2.2zM667.76 207.72h2.2v2.2h-2.2zM667.76 224.68h2.2v2.2h-2.2zM667.76 241.64h2.2v2.2h-2.2zM667.76 258.6h2.2v2.2h-2.2zM669.88 97.48h2.2v2.2h-2.2zM669.88 114.44h2.2v2.2h-2.2zM669.88 131.4h2.2v2.2h-2.2zM669.88 148.36h2.2v2.2h-2.2zM669.88 165.32h2.2v2.2h-2.2zM669.88 182.28h2.2v2.2h-2.2zM669.88 199.24h2.2v2.2h-2.2zM669.88 216.2h2.2v2.2h-2.2zM669.88 233.16h2.2v2.2h-2.2zM669.88 250.12h2.2v2.2h-2.2zM672 110.2h2.2v2.2h-2.2zM672 127.16h2.2v2.2h-2.2zM672 144.12h2.2v2.2h-2.2zM672 161.08h2.2v2.2h-2.2zM672 178.04h2.2v2.2h-2.2zM672 195h2.2v2.2h-2.2zM672 211.96h2.2v2.2h-2.2zM672 228.92h2.2v2.2h-2.2zM672 245.88h2.2v2.2h-2.2zM672 262.84h2.2v2.2h-2.2z"/></g><rect x="646.09" y="99.97" width="25.61" height="166.42" fill="none" stroke="#000" stroke-width="1.35"/><g clip-path="url(#lc0)"><rect x="129.3" y="361" width="12" height="11.8" fill="#fff"/><path fill="#000" d="M127.16 360.14h2.2v2.2h-2.2zM127.16 364.38h2.2v2.2h-2.2zM127.16 368.62h2.2v2.2h-2.2zM131.4 362.26h2.2v2.2h-2.2zM131.4 366.5h2.2v2.2h-2.2zM131.4 370.74h2.2v2.2h-2.2zM135.64 360.14h2.2v2.2h-2.2zM135.64 364.38h2.2v2.2h-2.2zM135.64 368.62h2.2v2.2h-2.2zM139.88 362.26h2.2v2.2h-2.2zM139.88 366.5h2.2v2.2h-2.2zM139.88 370.74h2.2v2.2h-2.2z"/></g><rect x="130.1" y="361.8" width="10.4" height="10.2" fill="none" stroke="#000" stroke-width="1.6"/><g clip-path="url(#lc1)"><rect x="311.1" y="361" width="12" height="11.8" fill="#000"/><path fill="#fff" d="M309.52 366.54h2.12v2.12h-2.12zM313.76 362.3h2.12v2.12h-2.12zM313.76 370.78h2.12v2.12h-2.12zM318 366.54h2.12v2.12h-2.12zM322.24 362.3h2.12v2.12h-2.12zM322.24 370.78h2.12v2.12h-2.12z"/></g><rect x="311.9" y="361.8" width="10.4" height="10.2" fill="none" stroke="#000" stroke-width="1.6"/><g clip-path="url(#lc2)"><rect x="504.1" y="361" width="12" height="11.8" fill="#fff"/><path fill="#000" d="M502.4 366.5h2.2v2.2h-2.2zM504.52 360.14h2.2v2.2h-2.2zM508.76 364.38h2.2v2.2h-2.2zM510.88 368.62h2.2v2.2h-2.2zM515.12 362.26h2.2v2.2h-2.2z"/></g><rect x="504.9" y="361.8" width="10.4" height="10.2" fill="none" stroke="#000" stroke-width="1.6"/></g>
<line x1="99.2" y1="7.7" x2="99.2" y2="266.4" stroke="#000" stroke-width="1.45"/><line x1="93" y1="266.4" x2="685" y2="266.4" stroke="#000" stroke-width="1.45"/><line x1="93" y1="8.35" x2="99.2" y2="8.35" stroke="#000" stroke-width="1.45"/><line x1="93" y1="59.96" x2="99.2" y2="59.96" stroke="#000" stroke-width="1.45"/><line x1="93" y1="111.57" x2="99.2" y2="111.57" stroke="#000" stroke-width="1.45"/><line x1="93" y1="163.18" x2="99.2" y2="163.18" stroke="#000" stroke-width="1.45"/><line x1="93" y1="214.79" x2="99.2" y2="214.79" stroke="#000" stroke-width="1.45"/>
<text transform="translate(85.9,15.8) scale(1,1.07)" text-anchor="end" font-size="23.6">2500</text><text transform="translate(85.9,66.66) scale(1,1.07)" text-anchor="end" font-size="23.6">2000</text><text transform="translate(85.9,119.57) scale(1,1.07)" text-anchor="end" font-size="23.6">1500</text><text transform="translate(85.9,170.13) scale(1,1.07)" text-anchor="end" font-size="23.6">1000</text><text transform="translate(85.9,221.59) scale(1,1.07)" text-anchor="end" font-size="23.6">500</text><text transform="translate(85.9,273.4) scale(1,1.07)" text-anchor="end" font-size="23.6">0</text><text transform="translate(158.85,297.8) scale(1,1.06)" text-anchor="middle" font-size="23.6">0</text><text transform="translate(276.52,297.8) scale(1,1.06)" text-anchor="middle" font-size="23.6">0.85</text><text transform="translate(392.5,297.8) scale(1,1.06)" text-anchor="middle" font-size="23.6">2</text><text transform="translate(509.58,297.8) scale(1,1.06)" text-anchor="middle" font-size="23.6">5</text><text transform="translate(626.75,297.8) scale(1,1.06)" text-anchor="middle" font-size="23.6">8</text><text transform="translate(285,333.3) scale(1,1.04)" font-size="26">Fiber Content %</text><text transform="translate(18.8,247.1) rotate(-90) scale(1.005,1)" font-size="26">Bulk Density (Kg/m<tspan font-size="15" dy="-8.5">3</tspan><tspan dy="8.5">)</tspan></text>
<text x="145.5" y="372.6" font-size="21.2">7 days</text><text x="327.3" y="372.6" font-size="21.2">28 days</text><text x="519.4" y="372.6" font-size="21.2">90 days</text>
</svg>
</body></html>
